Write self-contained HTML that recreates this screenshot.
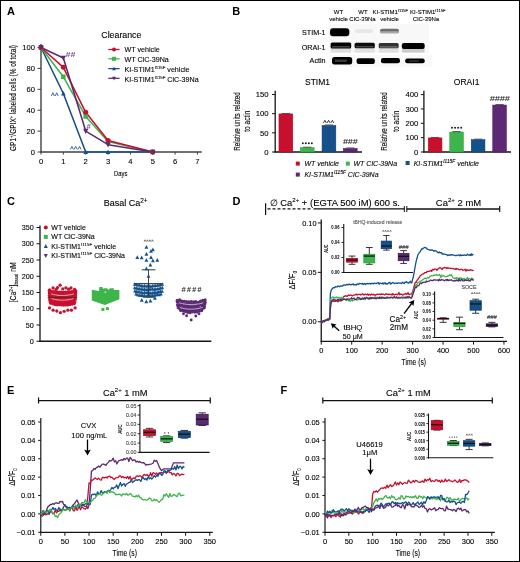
<!DOCTYPE html>
<html><head><meta charset="utf-8"><style>
html,body{margin:0;padding:0;background:#fff;}
svg{display:block;will-change:transform;}
text{font-family:"Liberation Sans", sans-serif;}
</style></head><body>
<svg width="520" height="562" viewBox="0 0 520 562">
<defs><filter id="bl" x="-20%" y="-50%" width="140%" height="200%"><feGaussianBlur stdDeviation="0.55"/></filter></defs>
<rect x="0" y="0" width="520" height="562" fill="#fff"/>
<text transform="translate(7,14.8)" font-size="11" text-anchor="start" font-weight="bold" font-style="normal" fill="#000" >A</text>
<line x1="41" y1="44" x2="41" y2="152.6" stroke="#404040" stroke-width="1.4" />
<line x1="40.3" y1="152" x2="201.7" y2="152" stroke="#404040" stroke-width="1.4" />
<line x1="37.5" y1="152" x2="41" y2="152" stroke="#404040" stroke-width="1" />
<text transform="translate(35,154.7)" font-size="7.6" text-anchor="end" font-weight="normal" font-style="normal" fill="#000"  stroke="#000" stroke-width="0.1">0</text>
<line x1="37.5" y1="131.1" x2="41" y2="131.1" stroke="#404040" stroke-width="1" />
<text transform="translate(35,133.8)" font-size="7.6" text-anchor="end" font-weight="normal" font-style="normal" fill="#000"  stroke="#000" stroke-width="0.1">20</text>
<line x1="37.5" y1="110.2" x2="41" y2="110.2" stroke="#404040" stroke-width="1" />
<text transform="translate(35,112.9)" font-size="7.6" text-anchor="end" font-weight="normal" font-style="normal" fill="#000"  stroke="#000" stroke-width="0.1">40</text>
<line x1="37.5" y1="89.3" x2="41" y2="89.3" stroke="#404040" stroke-width="1" />
<text transform="translate(35,92)" font-size="7.6" text-anchor="end" font-weight="normal" font-style="normal" fill="#000"  stroke="#000" stroke-width="0.1">60</text>
<line x1="37.5" y1="68.4" x2="41" y2="68.4" stroke="#404040" stroke-width="1" />
<text transform="translate(35,71.1)" font-size="7.6" text-anchor="end" font-weight="normal" font-style="normal" fill="#000"  stroke="#000" stroke-width="0.1">80</text>
<line x1="37.5" y1="47.5" x2="41" y2="47.5" stroke="#404040" stroke-width="1" />
<text transform="translate(35,50.2)" font-size="7.6" text-anchor="end" font-weight="normal" font-style="normal" fill="#000"  stroke="#000" stroke-width="0.1">100</text>
<line x1="41" y1="152" x2="41" y2="154.6" stroke="#404040" stroke-width="1" />
<text transform="translate(41,163.8)" font-size="7.6" text-anchor="middle" font-weight="normal" font-style="normal" fill="#000"  stroke="#000" stroke-width="0.1">0</text>
<line x1="63.35" y1="152" x2="63.35" y2="154.6" stroke="#404040" stroke-width="1" />
<text transform="translate(63.35,163.8)" font-size="7.6" text-anchor="middle" font-weight="normal" font-style="normal" fill="#000"  stroke="#000" stroke-width="0.1">1</text>
<line x1="85.7" y1="152" x2="85.7" y2="154.6" stroke="#404040" stroke-width="1" />
<text transform="translate(85.7,163.8)" font-size="7.6" text-anchor="middle" font-weight="normal" font-style="normal" fill="#000"  stroke="#000" stroke-width="0.1">2</text>
<line x1="108.05" y1="152" x2="108.05" y2="154.6" stroke="#404040" stroke-width="1" />
<text transform="translate(108.05,163.8)" font-size="7.6" text-anchor="middle" font-weight="normal" font-style="normal" fill="#000"  stroke="#000" stroke-width="0.1">3</text>
<line x1="130.4" y1="152" x2="130.4" y2="154.6" stroke="#404040" stroke-width="1" />
<text transform="translate(130.4,163.8)" font-size="7.6" text-anchor="middle" font-weight="normal" font-style="normal" fill="#000"  stroke="#000" stroke-width="0.1">4</text>
<line x1="152.75" y1="152" x2="152.75" y2="154.6" stroke="#404040" stroke-width="1" />
<text transform="translate(152.75,163.8)" font-size="7.6" text-anchor="middle" font-weight="normal" font-style="normal" fill="#000"  stroke="#000" stroke-width="0.1">5</text>
<line x1="175.1" y1="152" x2="175.1" y2="154.6" stroke="#404040" stroke-width="1" />
<text transform="translate(175.1,163.8)" font-size="7.6" text-anchor="middle" font-weight="normal" font-style="normal" fill="#000"  stroke="#000" stroke-width="0.1">6</text>
<line x1="197.45" y1="152" x2="197.45" y2="154.6" stroke="#404040" stroke-width="1" />
<text transform="translate(197.45,163.8)" font-size="7.6" text-anchor="middle" font-weight="normal" font-style="normal" fill="#000"  stroke="#000" stroke-width="0.1">7</text>
<text transform="translate(120.7,175.5) scale(0.78,1)" font-size="7.5" text-anchor="middle" font-weight="normal" font-style="normal" fill="#000"  stroke="#000" stroke-width="0.1">Days</text>
<text transform="translate(16.3,98) rotate(-90)" font-size="8.2" text-anchor="middle" font-weight="normal" font-style="normal" fill="#000"  textLength="106" lengthAdjust="spacingAndGlyphs" stroke="#000" stroke-width="0.1">GP1<tspan font-size="5" dy="-3">+</tspan><tspan dy="3">/GPIX<tspan font-size="5" dy="-3">+</tspan><tspan dy="3"> labeled cells (% of total)</tspan></tspan></text>
<polyline points="41,47.5 63.35,93.48 85.7,152 108.05,152 152.75,152" fill="none" stroke="#14508a" stroke-width="1.55" stroke-linejoin="round" />
<polyline points="41,47.5 63.35,76.76 85.7,116.47 108.05,141.55 152.75,152" fill="none" stroke="#3db54a" stroke-width="1.55" stroke-linejoin="round" />
<polyline points="41,47.5 63.35,67.36 85.7,112.29 108.05,140.5 152.75,152" fill="none" stroke="#c8102e" stroke-width="1.55" stroke-linejoin="round" />
<polyline points="41,47.5 63.35,57.95 85.7,131.1 108.05,144.69 152.75,152" fill="none" stroke="#5c2a72" stroke-width="1.55" stroke-linejoin="round" />
<polygon points="41,44.97 43.3,49.52 38.7,49.52" fill="#14508a"/>
<polygon points="63.35,90.95 65.65,95.5 61.05,95.5" fill="#14508a"/>
<polygon points="85.7,149.47 88,154.02 83.4,154.02" fill="#14508a"/>
<polygon points="108.05,149.47 110.35,154.02 105.75,154.02" fill="#14508a"/>
<polygon points="152.75,149.47 155.05,154.02 150.45,154.02" fill="#14508a"/>
<rect x="38.7" y="45.2" width="4.6" height="4.6" fill="#3db54a"/>
<rect x="61.05" y="74.46" width="4.6" height="4.6" fill="#3db54a"/>
<rect x="83.4" y="114.17" width="4.6" height="4.6" fill="#3db54a"/>
<rect x="105.75" y="139.25" width="4.6" height="4.6" fill="#3db54a"/>
<rect x="150.45" y="149.7" width="4.6" height="4.6" fill="#3db54a"/>
<circle cx="41" cy="47.5" r="2.5" fill="#c8102e"/>
<circle cx="63.35" cy="67.36" r="2.5" fill="#c8102e"/>
<circle cx="85.7" cy="112.29" r="2.5" fill="#c8102e"/>
<circle cx="108.05" cy="140.5" r="2.5" fill="#c8102e"/>
<circle cx="152.75" cy="152" r="2.5" fill="#c8102e"/>
<polygon points="41,50.36 43.6,45.21 38.4,45.21" fill="#5c2a72"/>
<polygon points="63.35,60.81 65.95,55.66 60.75,55.66" fill="#5c2a72"/>
<polygon points="85.7,133.96 88.3,128.81 83.1,128.81" fill="#5c2a72"/>
<polygon points="108.05,147.55 110.65,142.4 105.45,142.4" fill="#5c2a72"/>
<polygon points="152.75,154.86 155.35,149.71 150.15,149.71" fill="#5c2a72"/>
<text transform="translate(65.6,57.2)" font-size="7.4" text-anchor="start" font-weight="bold" font-style="italic" fill="#7e4f9c"  textLength="9.6" lengthAdjust="spacingAndGlyphs">##</text>
<polyline points="51.4,96 52.9,92.8 54.4,96" fill="none" stroke="#2f64a4" stroke-width="0.95" stroke-linejoin="miter"/>
<polyline points="55.2,96 56.7,92.8 58.2,96" fill="none" stroke="#2f64a4" stroke-width="0.95" stroke-linejoin="miter"/>
<text transform="translate(86.5,128.8)" font-size="7.4" text-anchor="start" font-weight="bold" font-style="italic" fill="#7e4f9c" >#</text>
<polyline points="70.4,149.4 71.9,146.4 73.4,149.4" fill="none" stroke="#2f64a4" stroke-width="0.95" stroke-linejoin="miter"/>
<polyline points="74.2,149.4 75.7,146.4 77.2,149.4" fill="none" stroke="#2f64a4" stroke-width="0.95" stroke-linejoin="miter"/>
<polyline points="78,149.4 79.5,146.4 81,149.4" fill="none" stroke="#2f64a4" stroke-width="0.95" stroke-linejoin="miter"/>
<text transform="translate(101.3,37.6)" font-size="8.8" text-anchor="start" font-weight="normal" font-style="normal" fill="#000"  stroke="#000" stroke-width="0.1">Clearance</text>
<line x1="108.3" y1="49.5" x2="119.6" y2="49.5" stroke="#c8102e" stroke-width="1.25" />
<circle cx="114" cy="49.5" r="2.0" fill="#c8102e"/>
<text transform="translate(124.5,52)" font-size="7.15" text-anchor="start" font-weight="normal" font-style="normal" fill="#000"  stroke="#000" stroke-width="0.1">WT vehicle</text>
<line x1="108.3" y1="58.8" x2="119.6" y2="58.8" stroke="#3db54a" stroke-width="1.25" />
<rect x="112" y="56.8" width="4" height="4" fill="#3db54a"/>
<text transform="translate(124.5,61.6)" font-size="7.15" text-anchor="start" font-weight="normal" font-style="normal" fill="#000"  stroke="#000" stroke-width="0.1">WT ClC-39Na</text>
<line x1="108.3" y1="68.6" x2="119.6" y2="68.6" stroke="#14508a" stroke-width="1.25" />
<polygon points="114,66.51 115.9,70.27 112.1,70.27" fill="#14508a"/>
<text transform="translate(124.5,71.7)" font-size="7.15" text-anchor="start" font-weight="normal" font-style="normal" fill="#000"  stroke="#000" stroke-width="0.1">KI-STIM1<tspan font-size="4.3" dy="-3.1">I115F</tspan><tspan dy="3.1"> vehicle</tspan></text>
<line x1="108.3" y1="78.3" x2="119.6" y2="78.3" stroke="#5c2a72" stroke-width="1.25" />
<polygon points="114,80.39 115.9,76.63 112.1,76.63" fill="#5c2a72"/>
<text transform="translate(124.5,81.7)" font-size="7.15" text-anchor="start" font-weight="normal" font-style="normal" fill="#000"  stroke="#000" stroke-width="0.1">KI-STIM1<tspan font-size="4.3" dy="-3.1">I115F</tspan><tspan dy="3.1"> ClC-39Na</tspan></text>
<text transform="translate(232.3,14.9)" font-size="11" text-anchor="start" font-weight="bold" font-style="normal" fill="#000" >B</text>
<text transform="translate(338.5,14.2)" font-size="6.0" text-anchor="middle" font-weight="normal" font-style="normal" fill="#000"  stroke="#000" stroke-width="0.1">WT</text>
<text transform="translate(338.5,21.2)" font-size="6.0" text-anchor="middle" font-weight="normal" font-style="normal" fill="#000"  stroke="#000" stroke-width="0.1">vehicle</text>
<text transform="translate(363,14.2)" font-size="6.0" text-anchor="middle" font-weight="normal" font-style="normal" fill="#000"  stroke="#000" stroke-width="0.1">WT</text>
<text transform="translate(362.5,21.2)" font-size="6.0" text-anchor="middle" font-weight="normal" font-style="normal" fill="#000"  stroke="#000" stroke-width="0.1">ClC-39Na</text>
<text transform="translate(372.5,14.2)" font-size="6.0" text-anchor="start" font-weight="normal" font-style="normal" fill="#000"  stroke="#000" stroke-width="0.1">KI-STIM1<tspan font-size="4.1" dy="-2.6">I115F</tspan><tspan dy="2.6"></tspan></text>
<text transform="translate(389.5,21.2)" font-size="6.0" text-anchor="middle" font-weight="normal" font-style="normal" fill="#000"  stroke="#000" stroke-width="0.1">vehicle</text>
<text transform="translate(410,14.2)" font-size="6.0" text-anchor="start" font-weight="normal" font-style="normal" fill="#000"  stroke="#000" stroke-width="0.1">KI-STIM1<tspan font-size="4.1" dy="-2.6">I115F</tspan><tspan dy="2.6"></tspan></text>
<text transform="translate(426,21.2)" font-size="6.0" text-anchor="middle" font-weight="normal" font-style="normal" fill="#000"  stroke="#000" stroke-width="0.1">ClC-39Na</text>
<text transform="translate(325.6,35.2)" font-size="7.2" text-anchor="end" font-weight="normal" font-style="normal" fill="#000" stroke="#000" stroke-width="0.12">STIM-1</text>
<text transform="translate(325.6,50.2)" font-size="7.2" text-anchor="end" font-weight="normal" font-style="normal" fill="#000" stroke="#000" stroke-width="0.12">ORAI-1</text>
<text transform="translate(325.6,63.2)" font-size="7.2" text-anchor="end" font-weight="normal" font-style="normal" fill="#000" stroke="#000" stroke-width="0.12">Actin</text>
<rect x="328.4" y="24" width="100.6" height="28.8" fill="#f8f8f8" />
<rect x="328.4" y="54.8" width="104" height="12.2" fill="#f9f9f9" />
<g filter="url(#bl)">
<rect x="330" y="28.3" width="19.3" height="8" rx="3" fill="#000" fill-opacity="1"/>
<rect x="354.8" y="29.3" width="18.2" height="3.8" rx="2.0" fill="#e8e8e8" fill-opacity="1"/>
<rect x="380" y="28.7" width="19" height="3.8" rx="2.0" fill="#6e6e6e" fill-opacity="1"/>
<rect x="380" y="31.3" width="19" height="2.3" rx="2.0" fill="#a8a8a8" fill-opacity="1"/>
<rect x="330.8" y="48" width="20.2" height="4.6" rx="0" fill="#dedede" fill-opacity="1"/>
<rect x="354.8" y="47.8" width="19.8" height="4.8" rx="0" fill="#e2e2e2" fill-opacity="1"/>
<rect x="378.9" y="48" width="19.6" height="4.6" rx="0" fill="#e0e0e0" fill-opacity="1"/>
<rect x="402" y="48.3" width="22.5" height="4.3" rx="0" fill="#cccccc" fill-opacity="1"/>
<rect x="330.6" y="42.4" width="20.6" height="6" rx="1.5" fill="#030303" fill-opacity="1"/>
<rect x="332" y="46" width="18" height="1.6" rx="0" fill="#404040" fill-opacity="1"/>
<rect x="354.6" y="42.8" width="20.2" height="5.5" rx="1.5" fill="#080808" fill-opacity="1"/>
<rect x="356" y="46" width="17.5" height="1.5" rx="0" fill="#454545" fill-opacity="1"/>
<rect x="378.7" y="43" width="20" height="5.3" rx="1.5" fill="#333" fill-opacity="1"/>
<rect x="380" y="46.1" width="17.5" height="1.6" rx="0" fill="#666" fill-opacity="1"/>
<rect x="401.8" y="42.9" width="22.9" height="6" rx="2" fill="#000" fill-opacity="1"/>
<rect x="332" y="57" width="20.2" height="7.5" rx="2.5" fill="#060606" fill-opacity="1"/>
<rect x="335" y="59.6" width="12" height="2.4" rx="1" fill="#383838" fill-opacity="1"/>
<rect x="356.6" y="58.2" width="18.2" height="5.9" rx="2" fill="#060606" fill-opacity="1"/>
<rect x="381" y="58" width="18.9" height="5.3" rx="2" fill="#060606" fill-opacity="1"/>
<rect x="405.2" y="58.6" width="19.5" height="4.7" rx="2" fill="#060606" fill-opacity="1"/>
<rect x="409" y="60.4" width="10" height="1.3" rx="0.5" fill="#3a3a3a" fill-opacity="1"/>
</g>
<text transform="translate(317.5,85.2)" font-size="8.5" text-anchor="middle" font-weight="normal" font-style="normal" fill="#000"  stroke="#000" stroke-width="0.1">STIM1</text>
<line x1="275.2" y1="90.7" x2="275.2" y2="152.6" stroke="#151515" stroke-width="1.3" />
<line x1="274.5" y1="152" x2="362" y2="152" stroke="#151515" stroke-width="1.3" />
<line x1="272" y1="152" x2="275.2" y2="152" stroke="#151515" stroke-width="1" />
<text transform="translate(268.6,154.7)" font-size="7.7" text-anchor="end" font-weight="normal" font-style="normal" fill="#000"  stroke="#000" stroke-width="0.1">0</text>
<line x1="272" y1="132.84" x2="275.2" y2="132.84" stroke="#151515" stroke-width="1" />
<text transform="translate(268.6,135.53)" font-size="7.7" text-anchor="end" font-weight="normal" font-style="normal" fill="#000"  stroke="#000" stroke-width="0.1">50</text>
<line x1="272" y1="113.67" x2="275.2" y2="113.67" stroke="#151515" stroke-width="1" />
<text transform="translate(268.6,116.37)" font-size="7.7" text-anchor="end" font-weight="normal" font-style="normal" fill="#000"  stroke="#000" stroke-width="0.1">100</text>
<line x1="272" y1="94.5" x2="275.2" y2="94.5" stroke="#151515" stroke-width="1" />
<text transform="translate(268.6,97.2)" font-size="7.7" text-anchor="end" font-weight="normal" font-style="normal" fill="#000"  stroke="#000" stroke-width="0.1">150</text>
<text transform="translate(240,121.6) rotate(-90)" font-size="8.5" text-anchor="middle" font-weight="normal" font-style="normal" fill="#000"  textLength="58.5" lengthAdjust="spacingAndGlyphs" stroke="#000" stroke-width="0.1">Relative units related</text>
<text transform="translate(250.2,121.2) rotate(-90)" font-size="8.5" text-anchor="middle" font-weight="normal" font-style="normal" fill="#000"  textLength="21" lengthAdjust="spacingAndGlyphs" stroke="#000" stroke-width="0.1">to actin</text>
<rect x="278.95" y="113.92" width="13.8" height="38.08" fill="#c8102e" stroke="#b00020" stroke-width="0.5"/>
<line x1="281.7" y1="113.47" x2="290" y2="113.47" stroke="#444" stroke-width="0.9" />
<rect x="300.35" y="147.65" width="13.8" height="4.35" fill="#3db54a" stroke="#24a236" stroke-width="0.5"/>
<line x1="303.1" y1="147.2" x2="311.4" y2="147.2" stroke="#444" stroke-width="0.9" />
<rect x="322.05" y="125.42" width="13.8" height="26.58" fill="#14508a" stroke="#0c3d70" stroke-width="0.5"/>
<line x1="324.8" y1="124.97" x2="333.1" y2="124.97" stroke="#444" stroke-width="0.9" />
<rect x="343.35" y="148.42" width="13.8" height="3.58" fill="#5c2a72" stroke="#4a1760" stroke-width="0.5"/>
<line x1="346.1" y1="147.97" x2="354.4" y2="147.97" stroke="#444" stroke-width="0.9" />
<circle cx="302.8" cy="143.2" r="1.0" fill="#222"/>
<circle cx="305.8" cy="143.2" r="1.0" fill="#222"/>
<circle cx="308.8" cy="143.2" r="1.0" fill="#222"/>
<circle cx="311.8" cy="143.2" r="1.0" fill="#222"/>
<polyline points="323.4,122.9 324.85,120.3 326.3,122.9" fill="none" stroke="#222" stroke-width="0.9" stroke-linejoin="miter"/>
<polyline points="327.15,122.9 328.6,120.3 330.05,122.9" fill="none" stroke="#222" stroke-width="0.9" stroke-linejoin="miter"/>
<polyline points="330.9,122.9 332.35,120.3 333.8,122.9" fill="none" stroke="#222" stroke-width="0.9" stroke-linejoin="miter"/>
<text transform="translate(343,144.2)" font-size="7.2" text-anchor="start" font-weight="normal" font-style="italic" fill="#222"  textLength="14.5" lengthAdjust="spacingAndGlyphs" stroke="#222" stroke-width="0.1">###</text>
<text transform="translate(466.6,85.2)" font-size="8.5" text-anchor="middle" font-weight="normal" font-style="normal" fill="#000"  stroke="#000" stroke-width="0.1">ORAI1</text>
<line x1="423.9" y1="90.7" x2="423.9" y2="152.6" stroke="#151515" stroke-width="1.3" />
<line x1="423.2" y1="152" x2="511" y2="152" stroke="#151515" stroke-width="1.3" />
<line x1="420.8" y1="152" x2="423.9" y2="152" stroke="#151515" stroke-width="1" />
<text transform="translate(418.3,154.7)" font-size="7.7" text-anchor="end" font-weight="normal" font-style="normal" fill="#000"  stroke="#000" stroke-width="0.1">0</text>
<line x1="420.8" y1="137.65" x2="423.9" y2="137.65" stroke="#151515" stroke-width="1" />
<text transform="translate(418.3,140.35)" font-size="7.7" text-anchor="end" font-weight="normal" font-style="normal" fill="#000"  stroke="#000" stroke-width="0.1">100</text>
<line x1="420.8" y1="123.3" x2="423.9" y2="123.3" stroke="#151515" stroke-width="1" />
<text transform="translate(418.3,126)" font-size="7.7" text-anchor="end" font-weight="normal" font-style="normal" fill="#000"  stroke="#000" stroke-width="0.1">200</text>
<line x1="420.8" y1="108.95" x2="423.9" y2="108.95" stroke="#151515" stroke-width="1" />
<text transform="translate(418.3,111.65)" font-size="7.7" text-anchor="end" font-weight="normal" font-style="normal" fill="#000"  stroke="#000" stroke-width="0.1">300</text>
<line x1="420.8" y1="94.6" x2="423.9" y2="94.6" stroke="#151515" stroke-width="1" />
<text transform="translate(418.3,97.3)" font-size="7.7" text-anchor="end" font-weight="normal" font-style="normal" fill="#000"  stroke="#000" stroke-width="0.1">400</text>
<text transform="translate(387.3,121.6) rotate(-90)" font-size="8.5" text-anchor="middle" font-weight="normal" font-style="normal" fill="#000"  textLength="58.5" lengthAdjust="spacingAndGlyphs" stroke="#000" stroke-width="0.1">Relative units related</text>
<text transform="translate(398.6,121.2) rotate(-90)" font-size="8.5" text-anchor="middle" font-weight="normal" font-style="normal" fill="#000"  textLength="21" lengthAdjust="spacingAndGlyphs" stroke="#000" stroke-width="0.1">to actin</text>
<rect x="428.25" y="137.9" width="13.7" height="14.1" fill="#c8102e" stroke="#b00020" stroke-width="0.5"/>
<line x1="431" y1="137.45" x2="439.2" y2="137.45" stroke="#444" stroke-width="0.9" />
<rect x="449.75" y="132.02" width="13.7" height="19.98" fill="#3db54a" stroke="#24a236" stroke-width="0.5"/>
<line x1="452.5" y1="131.57" x2="460.7" y2="131.57" stroke="#444" stroke-width="0.9" />
<rect x="471.25" y="139.62" width="13.7" height="12.38" fill="#14508a" stroke="#0c3d70" stroke-width="0.5"/>
<line x1="474" y1="139.17" x2="482.2" y2="139.17" stroke="#444" stroke-width="0.9" />
<rect x="492.75" y="105.04" width="13.7" height="46.96" fill="#5c2a72" stroke="#4a1760" stroke-width="0.5"/>
<line x1="495.5" y1="104.59" x2="503.7" y2="104.59" stroke="#444" stroke-width="0.9" />
<circle cx="452" cy="127.8" r="1.0" fill="#222"/>
<circle cx="455.07" cy="127.8" r="1.0" fill="#222"/>
<circle cx="458.13" cy="127.8" r="1.0" fill="#222"/>
<circle cx="461.2" cy="127.8" r="1.0" fill="#222"/>
<text transform="translate(489.8,101.1)" font-size="8.0" text-anchor="start" font-weight="normal" font-style="italic" fill="#222"  textLength="20" lengthAdjust="spacingAndGlyphs" stroke="#222" stroke-width="0.1">####</text>
<rect x="295.8" y="161.6" width="4" height="4" fill="#c8102e" />
<text transform="translate(304.4,165.6)" font-size="7.0" text-anchor="start" font-weight="normal" font-style="italic" fill="#000"  stroke="#000" stroke-width="0.1">WT vehicle</text>
<rect x="345.8" y="161.6" width="4" height="4" fill="#3db54a" />
<text transform="translate(353.5,165.6)" font-size="7.0" text-anchor="start" font-weight="normal" font-style="italic" fill="#000"  stroke="#000" stroke-width="0.1">WT ClC-39Na</text>
<rect x="405.6" y="161" width="4" height="4" fill="#14508a" />
<text transform="translate(413.7,165.6)" font-size="7.0" text-anchor="start" font-weight="normal" font-style="italic" fill="#000"  stroke="#000" stroke-width="0.1">KI-STIM1<tspan font-size="4.8" dy="-2.7">I115F</tspan><tspan dy="2.7"> vehicle</tspan></text>
<rect x="295.8" y="172.6" width="4" height="4" fill="#5c2a72" />
<text transform="translate(304.4,176.6)" font-size="7.0" text-anchor="start" font-weight="normal" font-style="italic" fill="#000"  stroke="#000" stroke-width="0.1">KI-STIM1<tspan font-size="4.8" dy="-2.7">I115F</tspan><tspan dy="2.7"> ClC-39Na</tspan></text>
<text transform="translate(7,204.6)" font-size="11" text-anchor="start" font-weight="bold" font-style="normal" fill="#000" >C</text>
<line x1="40" y1="225.5" x2="40" y2="341.9" stroke="#151515" stroke-width="1.3" />
<line x1="39.4" y1="341.25" x2="211.3" y2="341.25" stroke="#151515" stroke-width="1.3" />
<line x1="36.5" y1="341.25" x2="40" y2="341.25" stroke="#151515" stroke-width="1" />
<text transform="translate(33.8,343.85)" font-size="7.2" text-anchor="end" font-weight="normal" font-style="normal" fill="#000"  stroke="#000" stroke-width="0.1">0</text>
<line x1="36.5" y1="325" x2="40" y2="325" stroke="#151515" stroke-width="1" />
<text transform="translate(33.8,327.6)" font-size="7.2" text-anchor="end" font-weight="normal" font-style="normal" fill="#000"  stroke="#000" stroke-width="0.1">50</text>
<line x1="36.5" y1="308.75" x2="40" y2="308.75" stroke="#151515" stroke-width="1" />
<text transform="translate(33.8,311.35)" font-size="7.2" text-anchor="end" font-weight="normal" font-style="normal" fill="#000"  stroke="#000" stroke-width="0.1">100</text>
<line x1="36.5" y1="292.5" x2="40" y2="292.5" stroke="#151515" stroke-width="1" />
<text transform="translate(33.8,295.1)" font-size="7.2" text-anchor="end" font-weight="normal" font-style="normal" fill="#000"  stroke="#000" stroke-width="0.1">150</text>
<line x1="36.5" y1="276.25" x2="40" y2="276.25" stroke="#151515" stroke-width="1" />
<text transform="translate(33.8,278.85)" font-size="7.2" text-anchor="end" font-weight="normal" font-style="normal" fill="#000"  stroke="#000" stroke-width="0.1">200</text>
<line x1="36.5" y1="260" x2="40" y2="260" stroke="#151515" stroke-width="1" />
<text transform="translate(33.8,262.6)" font-size="7.2" text-anchor="end" font-weight="normal" font-style="normal" fill="#000"  stroke="#000" stroke-width="0.1">250</text>
<line x1="36.5" y1="243.75" x2="40" y2="243.75" stroke="#151515" stroke-width="1" />
<text transform="translate(33.8,246.35)" font-size="7.2" text-anchor="end" font-weight="normal" font-style="normal" fill="#000"  stroke="#000" stroke-width="0.1">300</text>
<line x1="36.5" y1="227.5" x2="40" y2="227.5" stroke="#151515" stroke-width="1" />
<text transform="translate(33.8,230.1)" font-size="7.2" text-anchor="end" font-weight="normal" font-style="normal" fill="#000"  stroke="#000" stroke-width="0.1">350</text>
<text transform="translate(103.7,206.2)" font-size="9.0" text-anchor="start" font-weight="normal" font-style="normal" fill="#000"  stroke="#000" stroke-width="0.1">Basal Ca<tspan font-size="6.4" dy="-3.4">2+</tspan><tspan dy="3.4"></tspan></text>
<text transform="translate(16.2,282.3) rotate(-90)" font-size="8.2" text-anchor="middle" font-weight="normal" font-style="normal" fill="#000"  textLength="40" lengthAdjust="spacingAndGlyphs" stroke="#000" stroke-width="0.1">[Ca<tspan font-size="5.5" dy="-3">2+</tspan><tspan dy="3">]<tspan font-size="5.5" dy="1.8">basal</tspan><tspan dy="-1.8"> nM</tspan></tspan></text>
<circle cx="45.8" cy="227.6" r="2.0" fill="#c8102e"/>
<text transform="translate(51.3,230.1)" font-size="7.0" text-anchor="start" font-weight="normal" font-style="normal" fill="#000"  stroke="#000" stroke-width="0.1">WT vehicle</text>
<rect x="43.8" y="234.9" width="4" height="4" fill="#3db54a"/>
<text transform="translate(51.3,239.4)" font-size="7.0" text-anchor="start" font-weight="normal" font-style="normal" fill="#000"  stroke="#000" stroke-width="0.1">WT ClC-39Na</text>
<polygon points="45.8,244.1 47.8,248.06 43.8,248.06" fill="#14508a"/>
<text transform="translate(51.3,248.8)" font-size="7.0" text-anchor="start" font-weight="normal" font-style="normal" fill="#000"  stroke="#000" stroke-width="0.1">KI-STIM1<tspan font-size="4.3" dy="-3.0" letter-spacing="0.15">I115F</tspan><tspan dy="3.0"> vehicle</tspan></text>
<polygon points="45.8,257.9 47.8,253.94 43.8,253.94" fill="#5c2a72"/>
<text transform="translate(51.3,258.2)" font-size="7.0" text-anchor="start" font-weight="normal" font-style="normal" fill="#000"  stroke="#000" stroke-width="0.1">KI-STIM1<tspan font-size="4.3" dy="-3.0" letter-spacing="0.15">I115F</tspan><tspan dy="3.0"> ClC-39Na</tspan></text>
<line x1="62.3" y1="295.9" x2="62.3" y2="300.7" stroke="#333" stroke-width="0.8" />
<circle cx="60.1" cy="285.2" r="1.65" fill="#c8102e"/>
<circle cx="49.6" cy="289.8" r="1.65" fill="#c8102e"/>
<circle cx="53.1" cy="288" r="1.65" fill="#c8102e"/>
<circle cx="56.2" cy="289.3" r="1.65" fill="#c8102e"/>
<circle cx="57.5" cy="287.6" r="1.65" fill="#c8102e"/>
<circle cx="62.8" cy="288.9" r="1.65" fill="#c8102e"/>
<circle cx="65.9" cy="287.8" r="1.65" fill="#c8102e"/>
<circle cx="68.6" cy="289.2" r="1.65" fill="#c8102e"/>
<circle cx="71" cy="287.9" r="1.65" fill="#c8102e"/>
<circle cx="74.6" cy="289.4" r="1.65" fill="#c8102e"/>
<circle cx="49.2" cy="290.87" r="1.6" fill="#c8102e"/>
<circle cx="51.25" cy="291.36" r="1.6" fill="#c8102e"/>
<circle cx="53.29" cy="291.6" r="1.6" fill="#c8102e"/>
<circle cx="55.34" cy="291.53" r="1.6" fill="#c8102e"/>
<circle cx="57.38" cy="292.17" r="1.6" fill="#c8102e"/>
<circle cx="59.43" cy="292.21" r="1.6" fill="#c8102e"/>
<circle cx="61.48" cy="292.08" r="1.6" fill="#c8102e"/>
<circle cx="63.52" cy="292.31" r="1.6" fill="#c8102e"/>
<circle cx="65.57" cy="292.2" r="1.6" fill="#c8102e"/>
<circle cx="67.62" cy="292.05" r="1.6" fill="#c8102e"/>
<circle cx="69.66" cy="291.8" r="1.6" fill="#c8102e"/>
<circle cx="71.71" cy="291.64" r="1.6" fill="#c8102e"/>
<circle cx="73.75" cy="291.05" r="1.6" fill="#c8102e"/>
<circle cx="75.8" cy="290.77" r="1.6" fill="#c8102e"/>
<circle cx="49.3" cy="292.9" r="1.6" fill="#c8102e"/>
<circle cx="51.33" cy="293.52" r="1.6" fill="#c8102e"/>
<circle cx="53.36" cy="293.74" r="1.6" fill="#c8102e"/>
<circle cx="55.39" cy="293.94" r="1.6" fill="#c8102e"/>
<circle cx="57.42" cy="294.04" r="1.6" fill="#c8102e"/>
<circle cx="59.45" cy="294.27" r="1.6" fill="#c8102e"/>
<circle cx="61.48" cy="294.39" r="1.6" fill="#c8102e"/>
<circle cx="63.52" cy="294.34" r="1.6" fill="#c8102e"/>
<circle cx="65.55" cy="294.58" r="1.6" fill="#c8102e"/>
<circle cx="67.58" cy="294.39" r="1.6" fill="#c8102e"/>
<circle cx="69.61" cy="293.45" r="1.6" fill="#c8102e"/>
<circle cx="71.64" cy="293.35" r="1.6" fill="#c8102e"/>
<circle cx="73.67" cy="293.36" r="1.6" fill="#c8102e"/>
<circle cx="75.7" cy="292.92" r="1.6" fill="#c8102e"/>
<circle cx="49.4" cy="295.24" r="1.6" fill="#c8102e"/>
<circle cx="51.42" cy="295.64" r="1.6" fill="#c8102e"/>
<circle cx="53.43" cy="296.35" r="1.6" fill="#c8102e"/>
<circle cx="55.45" cy="295.97" r="1.6" fill="#c8102e"/>
<circle cx="57.46" cy="296.32" r="1.6" fill="#c8102e"/>
<circle cx="59.48" cy="296.93" r="1.6" fill="#c8102e"/>
<circle cx="61.49" cy="296.72" r="1.6" fill="#c8102e"/>
<circle cx="63.51" cy="296.72" r="1.6" fill="#c8102e"/>
<circle cx="65.52" cy="296.42" r="1.6" fill="#c8102e"/>
<circle cx="67.54" cy="296.06" r="1.6" fill="#c8102e"/>
<circle cx="69.55" cy="296.23" r="1.6" fill="#c8102e"/>
<circle cx="71.57" cy="295.95" r="1.6" fill="#c8102e"/>
<circle cx="73.58" cy="295.35" r="1.6" fill="#c8102e"/>
<circle cx="75.6" cy="295.06" r="1.6" fill="#c8102e"/>
<circle cx="49.5" cy="297.39" r="1.6" fill="#c8102e"/>
<circle cx="51.5" cy="297.61" r="1.6" fill="#c8102e"/>
<circle cx="53.5" cy="298.11" r="1.6" fill="#c8102e"/>
<circle cx="55.5" cy="298.41" r="1.6" fill="#c8102e"/>
<circle cx="57.5" cy="298.6" r="1.6" fill="#c8102e"/>
<circle cx="59.5" cy="298.62" r="1.6" fill="#c8102e"/>
<circle cx="61.5" cy="298.91" r="1.6" fill="#c8102e"/>
<circle cx="63.5" cy="298.97" r="1.6" fill="#c8102e"/>
<circle cx="65.5" cy="298.79" r="1.6" fill="#c8102e"/>
<circle cx="67.5" cy="298.43" r="1.6" fill="#c8102e"/>
<circle cx="69.5" cy="298.54" r="1.6" fill="#c8102e"/>
<circle cx="71.5" cy="298.03" r="1.6" fill="#c8102e"/>
<circle cx="73.5" cy="297.97" r="1.6" fill="#c8102e"/>
<circle cx="75.5" cy="297.19" r="1.6" fill="#c8102e"/>
<circle cx="49.7" cy="299.78" r="1.6" fill="#c8102e"/>
<circle cx="51.83" cy="300.02" r="1.6" fill="#c8102e"/>
<circle cx="53.97" cy="300.13" r="1.6" fill="#c8102e"/>
<circle cx="56.1" cy="300.59" r="1.6" fill="#c8102e"/>
<circle cx="58.23" cy="300.86" r="1.6" fill="#c8102e"/>
<circle cx="60.37" cy="301.02" r="1.6" fill="#c8102e"/>
<circle cx="62.5" cy="300.8" r="1.6" fill="#c8102e"/>
<circle cx="64.63" cy="300.74" r="1.6" fill="#c8102e"/>
<circle cx="66.77" cy="300.88" r="1.6" fill="#c8102e"/>
<circle cx="68.9" cy="300.56" r="1.6" fill="#c8102e"/>
<circle cx="71.03" cy="300.42" r="1.6" fill="#c8102e"/>
<circle cx="73.17" cy="300.18" r="1.6" fill="#c8102e"/>
<circle cx="75.3" cy="299.27" r="1.6" fill="#c8102e"/>
<circle cx="50.1" cy="301.85" r="1.6" fill="#c8102e"/>
<circle cx="52.17" cy="302.47" r="1.6" fill="#c8102e"/>
<circle cx="54.23" cy="302.52" r="1.6" fill="#c8102e"/>
<circle cx="56.3" cy="302.69" r="1.6" fill="#c8102e"/>
<circle cx="58.37" cy="303.19" r="1.6" fill="#c8102e"/>
<circle cx="60.43" cy="303.21" r="1.6" fill="#c8102e"/>
<circle cx="62.5" cy="303.38" r="1.6" fill="#c8102e"/>
<circle cx="64.57" cy="303.09" r="1.6" fill="#c8102e"/>
<circle cx="66.63" cy="302.75" r="1.6" fill="#c8102e"/>
<circle cx="68.7" cy="302.83" r="1.6" fill="#c8102e"/>
<circle cx="70.77" cy="302.49" r="1.6" fill="#c8102e"/>
<circle cx="72.83" cy="302.38" r="1.6" fill="#c8102e"/>
<circle cx="74.9" cy="301.84" r="1.6" fill="#c8102e"/>
<circle cx="50.7" cy="303.27" r="1.6" fill="#c8102e"/>
<circle cx="52.85" cy="303.82" r="1.6" fill="#c8102e"/>
<circle cx="54.99" cy="304.61" r="1.6" fill="#c8102e"/>
<circle cx="57.14" cy="304.85" r="1.6" fill="#c8102e"/>
<circle cx="59.28" cy="304.77" r="1.6" fill="#c8102e"/>
<circle cx="61.43" cy="304.99" r="1.6" fill="#c8102e"/>
<circle cx="63.57" cy="305.08" r="1.6" fill="#c8102e"/>
<circle cx="65.72" cy="304.99" r="1.6" fill="#c8102e"/>
<circle cx="67.86" cy="304.89" r="1.6" fill="#c8102e"/>
<circle cx="70.01" cy="304.48" r="1.6" fill="#c8102e"/>
<circle cx="72.15" cy="304.04" r="1.6" fill="#c8102e"/>
<circle cx="74.3" cy="303.55" r="1.6" fill="#c8102e"/>
<polyline points="51.2,293.9 52.33,294.2 53.46,294.48 54.59,294.72 55.72,294.92 56.85,295.1 57.98,295.24 59.11,295.36 60.24,295.44 61.37,295.48 62.5,295.5 63.63,295.48 64.76,295.44 65.89,295.36 67.02,295.24 68.15,295.1 69.28,294.92 70.41,294.72 71.54,294.48 72.67,294.2 73.8,293.9" fill="none" stroke="#fff" stroke-width="0.7" stroke-linejoin="round" stroke-opacity="0.9"/>
<polyline points="51.5,298.6 52.6,298.9 53.7,299.18 54.8,299.42 55.9,299.62 57,299.8 58.1,299.94 59.2,300.06 60.3,300.14 61.4,300.18 62.5,300.2 63.6,300.18 64.7,300.14 65.8,300.06 66.9,299.94 68,299.8 69.1,299.62 70.2,299.42 71.3,299.18 72.4,298.9 73.5,298.6" fill="none" stroke="#fff" stroke-width="0.7" stroke-linejoin="round" stroke-opacity="0.9"/>
<circle cx="49.5" cy="307.9" r="1.65" fill="#c8102e"/>
<circle cx="53.1" cy="310.2" r="1.65" fill="#c8102e"/>
<circle cx="56.8" cy="311" r="1.65" fill="#c8102e"/>
<circle cx="60.4" cy="312.7" r="1.65" fill="#c8102e"/>
<circle cx="64.1" cy="311.3" r="1.65" fill="#c8102e"/>
<circle cx="67.8" cy="310.2" r="1.65" fill="#c8102e"/>
<circle cx="71.4" cy="310.2" r="1.65" fill="#c8102e"/>
<circle cx="75.1" cy="307.9" r="1.65" fill="#c8102e"/>
<line x1="47.7" y1="297.4" x2="76.9" y2="297.4" stroke="#333" stroke-width="0.8" />
<polygon points="91.8,289.7 99,291 99.4,286.9 102.5,286.9 103,289 104,288.3 107.4,288.3 108,290 110.2,288.3 113.6,288.3 114,290 119.4,290 119.4,299.3 104.8,305 91.8,300.6" fill="#3db54a"/>
<rect x="101.4" y="307.9" width="3" height="3" fill="#3db54a"/>
<rect x="105.9" y="307.2" width="3" height="3" fill="#3db54a"/>
<ellipse cx="105.3" cy="292.1" rx="1.2" ry="0.7" fill="#fff" fill-opacity="0.8"/>
<line x1="148.5" y1="269.8" x2="148.5" y2="297.2" stroke="#333" stroke-width="0.9" />
<line x1="141.7" y1="269.8" x2="155.4" y2="269.8" stroke="#333" stroke-width="1.0" />
<line x1="142.5" y1="297.2" x2="154.5" y2="297.2" stroke="#333" stroke-width="0.9" />
<line x1="133.8" y1="283.6" x2="163.2" y2="283.6" stroke="#333" stroke-width="1.0" />
<polygon points="146.4,244.91 148.3,248.67 144.5,248.67" fill="#14508a"/>
<polygon points="152.9,247.41 154.8,251.17 151,251.17" fill="#14508a"/>
<polygon points="151,249.01 152.9,252.77 149.1,252.77" fill="#14508a"/>
<polygon points="146.4,252.11 148.3,255.87 144.5,255.87" fill="#14508a"/>
<polygon points="137.3,255.21 139.2,258.97 135.4,258.97" fill="#14508a"/>
<polygon points="141.7,255.61 143.6,259.37 139.8,259.37" fill="#14508a"/>
<polygon points="151,255.21 152.9,258.97 149.1,258.97" fill="#14508a"/>
<polygon points="146.4,258.11 148.3,261.87 144.5,261.87" fill="#14508a"/>
<polygon points="152.9,258.61 154.8,262.37 151,262.37" fill="#14508a"/>
<polygon points="157.3,258.11 159.2,261.87 155.4,261.87" fill="#14508a"/>
<polygon points="150.4,262.71 152.3,266.47 148.5,266.47" fill="#14508a"/>
<polygon points="146.4,266.41 148.3,270.17 144.5,270.17" fill="#14508a"/>
<polygon points="148.5,273.91 150.4,277.67 146.6,277.67" fill="#14508a"/>
<polygon points="134.7,282.3 136.45,285.77 132.95,285.77" fill="#14508a"/>
<polygon points="136.32,282.6 138.07,286.06 134.57,286.06" fill="#14508a"/>
<polygon points="137.95,282.96 139.7,286.43 136.2,286.43" fill="#14508a"/>
<polygon points="139.57,282.96 141.32,286.42 137.82,286.42" fill="#14508a"/>
<polygon points="141.19,283.84 142.94,287.31 139.44,287.31" fill="#14508a"/>
<polygon points="142.82,283.94 144.57,287.41 141.07,287.41" fill="#14508a"/>
<polygon points="144.44,283.87 146.19,287.34 142.69,287.34" fill="#14508a"/>
<polygon points="146.06,284.14 147.81,287.6 144.31,287.6" fill="#14508a"/>
<polygon points="147.69,284.11 149.44,287.58 145.94,287.58" fill="#14508a"/>
<polygon points="149.31,283.99 151.06,287.45 147.56,287.45" fill="#14508a"/>
<polygon points="150.94,284.17 152.69,287.63 149.19,287.63" fill="#14508a"/>
<polygon points="152.56,283.87 154.31,287.34 150.81,287.34" fill="#14508a"/>
<polygon points="154.18,283.72 155.93,287.19 152.43,287.19" fill="#14508a"/>
<polygon points="155.81,283.45 157.56,286.92 154.06,286.92" fill="#14508a"/>
<polygon points="157.43,283.39 159.18,286.85 155.68,286.85" fill="#14508a"/>
<polygon points="159.05,283.01 160.8,286.47 157.3,286.47" fill="#14508a"/>
<polygon points="160.68,282.76 162.43,286.22 158.93,286.22" fill="#14508a"/>
<polygon points="162.3,282.18 164.05,285.65 160.55,285.65" fill="#14508a"/>
<polygon points="134.7,285.69 136.45,289.16 132.95,289.16" fill="#14508a"/>
<polygon points="136.32,285.94 138.07,289.4 134.57,289.4" fill="#14508a"/>
<polygon points="137.95,286.55 139.7,290.01 136.2,290.01" fill="#14508a"/>
<polygon points="139.57,286.75 141.32,290.21 137.82,290.21" fill="#14508a"/>
<polygon points="141.19,287.02 142.94,290.49 139.44,290.49" fill="#14508a"/>
<polygon points="142.82,287.23 144.57,290.7 141.07,290.7" fill="#14508a"/>
<polygon points="144.44,287.17 146.19,290.63 142.69,290.63" fill="#14508a"/>
<polygon points="146.06,287.54 147.81,291 144.31,291" fill="#14508a"/>
<polygon points="147.69,287.78 149.44,291.24 145.94,291.24" fill="#14508a"/>
<polygon points="149.31,287.22 151.06,290.69 147.56,290.69" fill="#14508a"/>
<polygon points="150.94,287.16 152.69,290.62 149.19,290.62" fill="#14508a"/>
<polygon points="152.56,287.09 154.31,290.56 150.81,290.56" fill="#14508a"/>
<polygon points="154.18,287.3 155.93,290.76 152.43,290.76" fill="#14508a"/>
<polygon points="155.81,286.99 157.56,290.45 154.06,290.45" fill="#14508a"/>
<polygon points="157.43,286.88 159.18,290.35 155.68,290.35" fill="#14508a"/>
<polygon points="159.05,286.53 160.8,290 157.3,290" fill="#14508a"/>
<polygon points="160.68,286.11 162.43,289.57 158.93,289.57" fill="#14508a"/>
<polygon points="162.3,285.72 164.05,289.18 160.55,289.18" fill="#14508a"/>
<polygon points="134.9,289.05 136.65,292.51 133.15,292.51" fill="#14508a"/>
<polygon points="136.5,289.6 138.25,293.07 134.75,293.07" fill="#14508a"/>
<polygon points="138.1,289.65 139.85,293.12 136.35,293.12" fill="#14508a"/>
<polygon points="139.7,290.06 141.45,293.52 137.95,293.52" fill="#14508a"/>
<polygon points="141.3,290.41 143.05,293.87 139.55,293.87" fill="#14508a"/>
<polygon points="142.9,290.84 144.65,294.31 141.15,294.31" fill="#14508a"/>
<polygon points="144.5,290.6 146.25,294.07 142.75,294.07" fill="#14508a"/>
<polygon points="146.1,290.66 147.85,294.12 144.35,294.12" fill="#14508a"/>
<polygon points="147.7,290.78 149.45,294.25 145.95,294.25" fill="#14508a"/>
<polygon points="149.3,291.01 151.05,294.48 147.55,294.48" fill="#14508a"/>
<polygon points="150.9,290.78 152.65,294.25 149.15,294.25" fill="#14508a"/>
<polygon points="152.5,290.92 154.25,294.38 150.75,294.38" fill="#14508a"/>
<polygon points="154.1,290.29 155.85,293.75 152.35,293.75" fill="#14508a"/>
<polygon points="155.7,290.54 157.45,294 153.95,294" fill="#14508a"/>
<polygon points="157.3,290.28 159.05,293.74 155.55,293.74" fill="#14508a"/>
<polygon points="158.9,289.61 160.65,293.07 157.15,293.07" fill="#14508a"/>
<polygon points="160.5,289.5 162.25,292.96 158.75,292.96" fill="#14508a"/>
<polygon points="162.1,289.26 163.85,292.72 160.35,292.72" fill="#14508a"/>
<polygon points="136,292.09 137.75,295.55 134.25,295.55" fill="#14508a"/>
<polygon points="137.67,292.67 139.42,296.14 135.92,296.14" fill="#14508a"/>
<polygon points="139.33,293.26 141.08,296.73 137.58,296.73" fill="#14508a"/>
<polygon points="141,293.27 142.75,296.73 139.25,296.73" fill="#14508a"/>
<polygon points="142.67,293.44 144.42,296.91 140.92,296.91" fill="#14508a"/>
<polygon points="144.33,293.56 146.08,297.02 142.58,297.02" fill="#14508a"/>
<polygon points="146,293.9 147.75,297.37 144.25,297.37" fill="#14508a"/>
<polygon points="147.67,293.84 149.42,297.3 145.92,297.3" fill="#14508a"/>
<polygon points="149.33,293.84 151.08,297.31 147.58,297.31" fill="#14508a"/>
<polygon points="151,293.79 152.75,297.25 149.25,297.25" fill="#14508a"/>
<polygon points="152.67,293.77 154.42,297.24 150.92,297.24" fill="#14508a"/>
<polygon points="154.33,293.32 156.08,296.79 152.58,296.79" fill="#14508a"/>
<polygon points="156,293 157.75,296.46 154.25,296.46" fill="#14508a"/>
<polygon points="157.67,292.54 159.42,296.01 155.92,296.01" fill="#14508a"/>
<polygon points="159.33,292.7 161.08,296.17 157.58,296.17" fill="#14508a"/>
<polygon points="161,292.09 162.75,295.55 159.25,295.55" fill="#14508a"/>
<polygon points="141.8,298.11 143.7,301.87 139.9,301.87" fill="#14508a"/>
<polygon points="146.3,299.41 148.2,303.17 144.4,303.17" fill="#14508a"/>
<polygon points="150.4,298.81 152.3,302.57 148.5,302.57" fill="#14508a"/>
<polygon points="154.9,296.01 156.8,299.77 153,299.77" fill="#14508a"/>
<line x1="148.5" y1="284" x2="148.5" y2="297.2" stroke="#333" stroke-width="0.8" stroke-opacity="0.8"/>
<line x1="177" y1="308" x2="205.5" y2="308" stroke="#333" stroke-width="0.8" />
<circle cx="177.3" cy="300.31" r="1.6" fill="#5c2a72"/>
<circle cx="179.62" cy="299.83" r="1.6" fill="#5c2a72"/>
<circle cx="181.93" cy="301.13" r="1.6" fill="#5c2a72"/>
<circle cx="184.25" cy="301.31" r="1.6" fill="#5c2a72"/>
<circle cx="186.57" cy="301.64" r="1.6" fill="#5c2a72"/>
<circle cx="188.88" cy="301.88" r="1.6" fill="#5c2a72"/>
<circle cx="191.2" cy="301.5" r="1.6" fill="#5c2a72"/>
<circle cx="193.52" cy="301.88" r="1.6" fill="#5c2a72"/>
<circle cx="195.83" cy="301.54" r="1.6" fill="#5c2a72"/>
<circle cx="198.15" cy="302.28" r="1.6" fill="#5c2a72"/>
<circle cx="200.47" cy="301.08" r="1.6" fill="#5c2a72"/>
<circle cx="202.78" cy="300.38" r="1.6" fill="#5c2a72"/>
<circle cx="205.1" cy="299.73" r="1.6" fill="#5c2a72"/>
<circle cx="177.3" cy="301.83" r="1.6" fill="#5c2a72"/>
<circle cx="179.62" cy="302.41" r="1.6" fill="#5c2a72"/>
<circle cx="181.93" cy="303.12" r="1.6" fill="#5c2a72"/>
<circle cx="184.25" cy="303.77" r="1.6" fill="#5c2a72"/>
<circle cx="186.57" cy="303.9" r="1.6" fill="#5c2a72"/>
<circle cx="188.88" cy="304.38" r="1.6" fill="#5c2a72"/>
<circle cx="191.2" cy="304.15" r="1.6" fill="#5c2a72"/>
<circle cx="193.52" cy="304.14" r="1.6" fill="#5c2a72"/>
<circle cx="195.83" cy="304.34" r="1.6" fill="#5c2a72"/>
<circle cx="198.15" cy="303.79" r="1.6" fill="#5c2a72"/>
<circle cx="200.47" cy="303.1" r="1.6" fill="#5c2a72"/>
<circle cx="202.78" cy="302.63" r="1.6" fill="#5c2a72"/>
<circle cx="205.1" cy="302.14" r="1.6" fill="#5c2a72"/>
<circle cx="177.6" cy="304.68" r="1.6" fill="#5c2a72"/>
<circle cx="179.87" cy="304.8" r="1.6" fill="#5c2a72"/>
<circle cx="182.13" cy="305.36" r="1.6" fill="#5c2a72"/>
<circle cx="184.4" cy="306.1" r="1.6" fill="#5c2a72"/>
<circle cx="186.67" cy="305.93" r="1.6" fill="#5c2a72"/>
<circle cx="188.93" cy="306.27" r="1.6" fill="#5c2a72"/>
<circle cx="191.2" cy="306.62" r="1.6" fill="#5c2a72"/>
<circle cx="193.47" cy="306.48" r="1.6" fill="#5c2a72"/>
<circle cx="195.73" cy="306.18" r="1.6" fill="#5c2a72"/>
<circle cx="198" cy="306.02" r="1.6" fill="#5c2a72"/>
<circle cx="200.27" cy="304.72" r="1.6" fill="#5c2a72"/>
<circle cx="202.53" cy="305.13" r="1.6" fill="#5c2a72"/>
<circle cx="204.8" cy="303.96" r="1.6" fill="#5c2a72"/>
<circle cx="178" cy="305.98" r="1.6" fill="#5c2a72"/>
<circle cx="180.4" cy="307.2" r="1.6" fill="#5c2a72"/>
<circle cx="182.8" cy="307.88" r="1.6" fill="#5c2a72"/>
<circle cx="185.2" cy="308.03" r="1.6" fill="#5c2a72"/>
<circle cx="187.6" cy="308.17" r="1.6" fill="#5c2a72"/>
<circle cx="190" cy="308.59" r="1.6" fill="#5c2a72"/>
<circle cx="192.4" cy="308.57" r="1.6" fill="#5c2a72"/>
<circle cx="194.8" cy="308.79" r="1.6" fill="#5c2a72"/>
<circle cx="197.2" cy="308.33" r="1.6" fill="#5c2a72"/>
<circle cx="199.6" cy="307.76" r="1.6" fill="#5c2a72"/>
<circle cx="202" cy="307.41" r="1.6" fill="#5c2a72"/>
<circle cx="204.4" cy="306.35" r="1.6" fill="#5c2a72"/>
<circle cx="179" cy="308.17" r="1.6" fill="#5c2a72"/>
<circle cx="181.22" cy="309.27" r="1.6" fill="#5c2a72"/>
<circle cx="183.44" cy="309.85" r="1.6" fill="#5c2a72"/>
<circle cx="185.65" cy="310.09" r="1.6" fill="#5c2a72"/>
<circle cx="187.87" cy="310.24" r="1.6" fill="#5c2a72"/>
<circle cx="190.09" cy="310.64" r="1.6" fill="#5c2a72"/>
<circle cx="192.31" cy="309.96" r="1.6" fill="#5c2a72"/>
<circle cx="194.53" cy="310.61" r="1.6" fill="#5c2a72"/>
<circle cx="196.75" cy="310.27" r="1.6" fill="#5c2a72"/>
<circle cx="198.96" cy="309.3" r="1.6" fill="#5c2a72"/>
<circle cx="201.18" cy="309.14" r="1.6" fill="#5c2a72"/>
<circle cx="203.4" cy="308.16" r="1.6" fill="#5c2a72"/>
<circle cx="180.7" cy="310.39" r="1.6" fill="#5c2a72"/>
<circle cx="183.03" cy="310.56" r="1.6" fill="#5c2a72"/>
<circle cx="185.37" cy="311.49" r="1.6" fill="#5c2a72"/>
<circle cx="187.7" cy="312.33" r="1.6" fill="#5c2a72"/>
<circle cx="190.03" cy="312.66" r="1.6" fill="#5c2a72"/>
<circle cx="192.37" cy="311.83" r="1.6" fill="#5c2a72"/>
<circle cx="194.7" cy="312.03" r="1.6" fill="#5c2a72"/>
<circle cx="197.03" cy="311.8" r="1.6" fill="#5c2a72"/>
<circle cx="199.37" cy="310.92" r="1.6" fill="#5c2a72"/>
<circle cx="201.7" cy="310.6" r="1.6" fill="#5c2a72"/>
<polyline points="179.2,302.8 180.4,303.14 181.6,303.45 182.8,303.72 184,303.95 185.2,304.15 186.4,304.31 187.6,304.44 188.8,304.53 190,304.58 191.2,304.6 192.4,304.58 193.6,304.53 194.8,304.44 196,304.31 197.2,304.15 198.4,303.95 199.6,303.72 200.8,303.45 202,303.14 203.2,302.8" fill="none" stroke="#fff" stroke-width="0.7" stroke-linejoin="round" stroke-opacity="0.9"/>
<polyline points="179.7,307.4 180.85,307.74 182,308.05 183.15,308.32 184.3,308.55 185.45,308.75 186.6,308.91 187.75,309.04 188.9,309.13 190.05,309.18 191.2,309.2 192.35,309.18 193.5,309.13 194.65,309.04 195.8,308.91 196.95,308.75 198.1,308.55 199.25,308.32 200.4,308.05 201.55,307.74 202.7,307.4" fill="none" stroke="#fff" stroke-width="0.7" stroke-linejoin="round" stroke-opacity="0.9"/>
<circle cx="186.6" cy="315.8" r="1.45" fill="#5c2a72"/>
<circle cx="195.8" cy="316" r="1.45" fill="#5c2a72"/>
<circle cx="191.2" cy="320" r="1.45" fill="#5c2a72"/>
<circle cx="183.5" cy="313.8" r="1.45" fill="#5c2a72"/>
<circle cx="199" cy="313.8" r="1.45" fill="#5c2a72"/>
<line x1="176.5" y1="308" x2="179" y2="308" stroke="#333" stroke-width="0.8" />
<line x1="203.5" y1="308" x2="206" y2="308" stroke="#333" stroke-width="0.8" />
<polyline points="144.1,241.6 144.95,239.8 145.8,241.6" fill="none" stroke="#333" stroke-width="0.65" stroke-linejoin="miter"/>
<polyline points="146.6,241.6 147.45,239.8 148.3,241.6" fill="none" stroke="#333" stroke-width="0.65" stroke-linejoin="miter"/>
<polyline points="149.1,241.6 149.95,239.8 150.8,241.6" fill="none" stroke="#333" stroke-width="0.65" stroke-linejoin="miter"/>
<polyline points="151.6,241.6 152.45,239.8 153.3,241.6" fill="none" stroke="#333" stroke-width="0.65" stroke-linejoin="miter"/>
<text transform="translate(181.8,292.4)" font-size="7.0" text-anchor="start" font-weight="normal" font-style="normal" fill="#222" letter-spacing="1.3" stroke="#222" stroke-width="0.1">####</text>
<text transform="translate(232.6,204.7)" font-size="11" text-anchor="start" font-weight="bold" font-style="normal" fill="#000" >D</text>
<line x1="265.6" y1="203.2" x2="265.6" y2="215" stroke="#111" stroke-width="1.2" />
<line x1="267.5" y1="208.8" x2="312" y2="208.8" stroke="#111" stroke-width="1.3" stroke-dasharray="3,2"/>
<line x1="313.5" y1="208.8" x2="404.5" y2="208.8" stroke="#111" stroke-width="1.3" />
<line x1="404.3" y1="206" x2="404.3" y2="212" stroke="#111" stroke-width="1.0" />
<line x1="406.8" y1="206" x2="406.8" y2="212" stroke="#111" stroke-width="1.0" />
<line x1="406.8" y1="209" x2="499.7" y2="209" stroke="#111" stroke-width="1.3" />
<line x1="499.7" y1="206" x2="499.7" y2="212" stroke="#111" stroke-width="1.2" />
<text transform="translate(269.5,205.5)" font-size="9.3" text-anchor="start" font-weight="normal" font-style="normal" fill="#000"  textLength="130.5" lengthAdjust="spacingAndGlyphs" stroke="#000" stroke-width="0.1">&#8709; Ca<tspan font-size="6" dy="-3.4">2+</tspan><tspan dy="3.4"> + (EGTA 500 iM) 600 s.</tspan></text>
<text transform="translate(435.8,205.7)" font-size="9.3" text-anchor="start" font-weight="normal" font-style="normal" fill="#000"  textLength="45.4" lengthAdjust="spacingAndGlyphs" stroke="#000" stroke-width="0.1">Ca<tspan font-size="6" dy="-3.4">2+</tspan><tspan dy="3.4"> 2 mM</tspan></text>
<line x1="321.25" y1="219.5" x2="321.25" y2="342" stroke="#151515" stroke-width="1.3" />
<line x1="320.6" y1="341.3" x2="507" y2="341.3" stroke="#151515" stroke-width="1.3" />
<line x1="317.8" y1="321.75" x2="321.25" y2="321.75" stroke="#151515" stroke-width="1" />
<text transform="translate(316.6,324.35)" font-size="7.4" text-anchor="end" font-weight="normal" font-style="normal" fill="#000"  stroke="#000" stroke-width="0.1">0.00</text>
<line x1="317.8" y1="272.35" x2="321.25" y2="272.35" stroke="#151515" stroke-width="1" />
<text transform="translate(316.6,274.95)" font-size="7.4" text-anchor="end" font-weight="normal" font-style="normal" fill="#000"  stroke="#000" stroke-width="0.1">0.05</text>
<line x1="317.8" y1="222.95" x2="321.25" y2="222.95" stroke="#151515" stroke-width="1" />
<text transform="translate(316.6,225.55)" font-size="7.4" text-anchor="end" font-weight="normal" font-style="normal" fill="#000"  stroke="#000" stroke-width="0.1">0.10</text>
<line x1="321.25" y1="341.3" x2="321.25" y2="344.6" stroke="#151515" stroke-width="1" />
<text transform="translate(321.25,353.2)" font-size="7.4" text-anchor="middle" font-weight="normal" font-style="normal" fill="#000"  stroke="#000" stroke-width="0.1">0</text>
<line x1="351.7" y1="341.3" x2="351.7" y2="344.6" stroke="#151515" stroke-width="1" />
<text transform="translate(351.7,353.2)" font-size="7.4" text-anchor="middle" font-weight="normal" font-style="normal" fill="#000"  stroke="#000" stroke-width="0.1">100</text>
<line x1="382.15" y1="341.3" x2="382.15" y2="344.6" stroke="#151515" stroke-width="1" />
<text transform="translate(382.15,353.2)" font-size="7.4" text-anchor="middle" font-weight="normal" font-style="normal" fill="#000"  stroke="#000" stroke-width="0.1">200</text>
<line x1="412.6" y1="341.3" x2="412.6" y2="344.6" stroke="#151515" stroke-width="1" />
<text transform="translate(412.6,353.2)" font-size="7.4" text-anchor="middle" font-weight="normal" font-style="normal" fill="#000"  stroke="#000" stroke-width="0.1">300</text>
<line x1="443.05" y1="341.3" x2="443.05" y2="344.6" stroke="#151515" stroke-width="1" />
<text transform="translate(443.05,353.2)" font-size="7.4" text-anchor="middle" font-weight="normal" font-style="normal" fill="#000"  stroke="#000" stroke-width="0.1">400</text>
<line x1="473.5" y1="341.3" x2="473.5" y2="344.6" stroke="#151515" stroke-width="1" />
<text transform="translate(473.5,353.2)" font-size="7.4" text-anchor="middle" font-weight="normal" font-style="normal" fill="#000"  stroke="#000" stroke-width="0.1">500</text>
<line x1="503.95" y1="341.3" x2="503.95" y2="344.6" stroke="#151515" stroke-width="1" />
<text transform="translate(503.95,353.2)" font-size="7.4" text-anchor="middle" font-weight="normal" font-style="normal" fill="#000"  stroke="#000" stroke-width="0.1">600</text>
<text transform="translate(413.8,365)" font-size="8.6" text-anchor="middle" font-weight="normal" font-style="normal" fill="#000"  textLength="24.5" lengthAdjust="spacingAndGlyphs" stroke="#000" stroke-width="0.1">Time (s)</text>
<text transform="translate(295.3,280.2) rotate(-90)" font-size="8.6" text-anchor="middle" font-weight="normal" font-style="normal" fill="#000"  textLength="18.4" lengthAdjust="spacingAndGlyphs" stroke="#000" stroke-width="0.1">&#916;F/F<tspan font-size="5.5" dy="1.8">0</tspan><tspan dy="-1.8"></tspan></text>
<polyline points="321.25,322.52 322.01,321.54 322.77,321.28 323.53,321.8 324.3,321.37 325.06,321.15 325.82,320.27 326.58,320.23 327.34,319.5 328.1,320.44 328.86,318.41 329.62,319.65 330.38,293.75 331.15,290.45 331.91,289.17 332.67,288.19 333.43,287.63 334.19,287.75 334.95,287.34 335.71,286.54 336.48,286.92 337.24,286.91 338,285.86 338.76,286.28 339.52,286.78 340.28,286.13 341.04,285.85 341.8,286.1 342.56,286.14 343.33,285.28 344.09,284.74 344.85,285.19 345.61,285.34 346.37,284.67 347.13,284.43 347.89,284.89 348.65,284.43 349.42,284.14 350.18,284.71 350.94,284.97 351.7,284.35 352.46,284.36 353.22,283.89 353.98,285.03 354.75,284.68 355.51,284.72 356.27,285.12 357.03,284.16 357.79,283.92 358.55,284.5 359.31,283.41 360.07,283.64 360.83,283.7 361.6,283.76 362.36,283.45 363.12,284.53 363.88,283.53 364.64,283.49 365.4,284.62 366.16,283.54 366.93,283.82 367.69,283.3 368.45,283.89 369.21,283.67 369.97,283.48 370.73,284.06 371.49,283.32 372.25,283.66 373.01,283.35 373.78,283.84 374.54,283.03 375.3,283.25 376.06,283.63 376.82,283.22 377.58,282.89 378.34,282.62 379.11,284.27 379.87,283.04 380.63,283.23 381.39,283.5 382.15,283.93 382.91,282.8 383.67,284.03 384.43,283.12 385.19,282.74 385.96,284.16 386.72,283.51 387.48,283.99 388.24,283.21 389,282.57 389.76,282.31 390.52,284.17 391.28,283.56 392.05,282.92 392.81,282.47 393.57,283.03 394.33,283.6 395.09,283.06 395.85,283.18 396.61,283.24 397.38,283.47 398.14,282.88 398.9,282.88 399.66,283.05 400.42,283.07 401.18,283.56 401.94,283.13 402.7,282.26 403.47,282.92 404.23,283.5 404.99,282.09 405.75,282.45 406.51,281.64 407.27,282.62 408.03,282.84 408.79,283.29 409.56,281.89 410.32,281.24 411.08,282.88 411.84,282.75 412.6,279.37 413.36,276.61 414.12,272.34 414.88,268.25 415.64,263.86 416.41,260.34 417.17,257.8 417.93,254.62 418.69,253.84 419.45,252.04 420.21,251.83 420.97,250.27 421.74,248.79 422.5,249.1 423.26,248.15 424.02,247.8 424.78,247.3 425.54,247.81 426.3,247.97 427.06,248.79 427.82,249.34 428.59,249.62 429.35,249.76 430.11,250.26 430.87,250.09 431.63,249.99 432.39,249.95 433.15,250.36 433.91,251.27 434.68,250.73 435.44,250.96 436.2,250.91 436.96,251.54 437.72,252.52 438.48,252.94 439.24,251.96 440,252.89 440.77,252.55 441.53,252.6 442.29,254.25 443.05,253.85 443.81,254.01 444.57,254.15 445.33,254.36 446.1,254.61 446.86,254.67 447.62,255.55 448.38,254.95 449.14,255.29 449.9,254.91 450.66,255.25 451.42,254.77 452.19,254.72 452.95,255.03 453.71,255.07 454.47,255.24 455.23,255.56 455.99,255.42 456.75,255.55 457.51,255.08 458.27,255.23 459.04,254.92 459.8,255.83 460.56,254.7 461.32,255.48 462.08,255.43 462.84,255.13 463.6,255.28 464.37,254.82 465.13,255.22 465.89,255.43 466.65,255.29 467.41,254.19 468.17,254.78 468.93,255.34 469.69,254.73 470.45,255.47 471.22,253.78 471.98,255.39 472.74,254.36 473.5,254.3" fill="none" stroke="#14508a" stroke-width="1.3" stroke-linejoin="round" />
<polyline points="321.25,323.26 322.01,322.06 322.77,321.39 323.53,321.32 324.3,321.09 325.06,320.42 325.82,320.47 326.58,320.04 327.34,319.93 328.1,319.21 328.86,319.65 329.62,319.21 330.38,305.2 331.15,303.02 331.91,301.68 332.67,300.87 333.43,301.08 334.19,301.65 334.95,300.9 335.71,301.31 336.48,300.99 337.24,300.74 338,301.82 338.76,300.48 339.52,300.97 340.28,300.7 341.04,300.98 341.8,300.41 342.56,299.22 343.33,297.43 344.09,296.1 344.85,296.41 345.61,295.58 346.37,295.98 347.13,296.52 347.89,295.37 348.65,295.17 349.42,295.55 350.18,295.14 350.94,294.96 351.7,295.62 352.46,295.87 353.22,295.2 353.98,295.15 354.75,295.17 355.51,294.46 356.27,294.04 357.03,295.07 357.79,294.51 358.55,294.37 359.31,294.47 360.07,294.29 360.83,294.98 361.6,294.41 362.36,293.76 363.12,294.34 363.88,295.03 364.64,294.41 365.4,294.07 366.16,294.5 366.93,294.94 367.69,293.89 368.45,295.25 369.21,294.37 369.97,294.61 370.73,295.17 371.49,293.97 372.25,294.38 373.01,295.11 373.78,294.22 374.54,294.72 375.3,295.43 376.06,294.82 376.82,294.34 377.58,294.15 378.34,294.37 379.11,294.42 379.87,294.2 380.63,294.53 381.39,293.84 382.15,294.34 382.91,294.26 383.67,294.13 384.43,294.91 385.19,294.73 385.96,293.61 386.72,294.2 387.48,294.49 388.24,294.18 389,294.57 389.76,294.19 390.52,294.65 391.28,294.18 392.05,295.08 392.81,293.64 393.57,294.54 394.33,295.06 395.09,294.38 395.85,294.45 396.61,294.18 397.38,294.81 398.14,294.04 398.9,292.44 399.66,294.85 400.42,294.05 401.18,294.36 401.94,294.1 402.7,295.08 403.47,294.75 404.23,293.94 404.99,294.18 405.75,293.35 406.51,294.49 407.27,294.05 408.03,292.69 408.79,294.5 409.56,294.56 410.32,294.12 411.08,294.12 411.84,293.67 412.6,291.69 413.36,289.21 414.12,286.55 414.88,283.35 415.64,282.02 416.41,282.25 417.17,280.08 417.93,279.59 418.69,277.99 419.45,277.53 420.21,275.63 420.97,275.26 421.74,274.43 422.5,274.21 423.26,273.94 424.02,273.38 424.78,272.53 425.54,272.54 426.3,272.6 427.06,271.42 427.82,271.58 428.59,271.34 429.35,271.32 430.11,270.83 430.87,270.49 431.63,271.43 432.39,269.42 433.15,269.51 433.91,269.77 434.68,269.02 435.44,269.19 436.2,269.09 436.96,270.37 437.72,269.13 438.48,268.63 439.24,267.97 440,267.72 440.77,267.8 441.53,268.95 442.29,269.33 443.05,267.84 443.81,267.98 444.57,267.39 445.33,267.79 446.1,267.68 446.86,268.64 447.62,267.78 448.38,268.32 449.14,268.04 449.9,268.09 450.66,268.48 451.42,268.37 452.19,268.64 452.95,268.36 453.71,268.59 454.47,269.21 455.23,269.34 455.99,268.27 456.75,269.24 457.51,268.76 458.27,269.12 459.04,269.66 459.8,269.81 460.56,269.44 461.32,269.44 462.08,269.33 462.84,270.32 463.6,270.05 464.37,269.86 465.13,269.09 465.89,271.11 466.65,269.79 467.41,270.34 468.17,269.92 468.93,270.44 469.69,270.08 470.45,269.55 471.22,270.21 471.98,270.23 472.74,270.32 473.5,270.94" fill="none" stroke="#c8102e" stroke-width="1.3" stroke-linejoin="round" />
<polyline points="321.25,322.27 322.01,322.31 322.77,322.28 323.53,321.57 324.3,321.34 325.06,320.52 325.82,320.57 326.58,320.47 327.34,319.15 328.1,319.03 328.86,318.55 329.62,319.3 330.38,300.07 331.15,298.16 331.91,297.63 332.67,296.96 333.43,297.31 334.19,298.03 334.95,297.25 335.71,297.87 336.48,297.02 337.24,297.69 338,297.92 338.76,297.44 339.52,297.75 340.28,298.74 341.04,297.75 341.8,297.26 342.56,299.26 343.33,297.88 344.09,299.37 344.85,299.52 345.61,299.61 346.37,300.48 347.13,299.37 347.89,300.02 348.65,300.88 349.42,300.58 350.18,301.13 350.94,300.49 351.7,299.8 352.46,301.05 353.22,300.35 353.98,300 354.75,299.5 355.51,299.24 356.27,300.03 357.03,300.06 357.79,299.36 358.55,299.66 359.31,299.53 360.07,298.73 360.83,298.32 361.6,298.92 362.36,299.04 363.12,298.56 363.88,299.66 364.64,298.63 365.4,299.04 366.16,297.24 366.93,297.99 367.69,298.21 368.45,298.31 369.21,299.38 369.97,297.72 370.73,297.2 371.49,298.29 372.25,297.53 373.01,297.44 373.78,298.49 374.54,297.19 375.3,296.92 376.06,297.43 376.82,297.57 377.58,297.14 378.34,298.29 379.11,297.48 379.87,297 380.63,298.13 381.39,297.02 382.15,297.72 382.91,298.53 383.67,297.55 384.43,297.98 385.19,297.33 385.96,298.07 386.72,296.97 387.48,297.85 388.24,297.3 389,297.77 389.76,297.63 390.52,296.87 391.28,297.35 392.05,297.65 392.81,298.07 393.57,296.87 394.33,297.08 395.09,297.6 395.85,297.31 396.61,297.94 397.38,297.93 398.14,297.83 398.9,297.24 399.66,297.27 400.42,297.78 401.18,297.04 401.94,297.01 402.7,297.31 403.47,296.88 404.23,297.53 404.99,297.44 405.75,297.15 406.51,297.39 407.27,296.98 408.03,297.99 408.79,296.66 409.56,297.75 410.32,297.44 411.08,298.03 411.84,297.05 412.6,294.37 413.36,291.53 414.12,288.7 414.88,286.95 415.64,285.47 416.41,284.68 417.17,284.28 417.93,282.63 418.69,282.46 419.45,281.93 420.21,281.04 420.97,281.12 421.74,280.46 422.5,280.02 423.26,279.06 424.02,278.85 424.78,278.44 425.54,277.91 426.3,278.83 427.06,278.15 427.82,277.51 428.59,277.97 429.35,277.28 430.11,276.23 430.87,275.9 431.63,275.62 432.39,275.85 433.15,275.69 433.91,274.84 434.68,275.48 435.44,275.04 436.2,274.46 436.96,275.21 437.72,275.25 438.48,274.86 439.24,274.48 440,275.6 440.77,277.54 441.53,275.04 442.29,276.24 443.05,276 443.81,275.63 444.57,276.3 445.33,276.64 446.1,276.54 446.86,276.32 447.62,275.88 448.38,276.21 449.14,275.52 449.9,274.72 450.66,275.55 451.42,274.94 452.19,276.23 452.95,277.72 453.71,278.09 454.47,278.78 455.23,277.94 455.99,278.92 456.75,277.72 457.51,278.12 458.27,279.43 459.04,278.07 459.8,277.72 460.56,278.9 461.32,278.05 462.08,279.45 462.84,278.47 463.6,279.44 464.37,278.41 465.13,279.56 465.89,280 466.65,278.53 467.41,277.62 468.17,279.07 468.93,278.4 469.69,278.78 470.45,279.02 471.22,278.58 471.98,278.1 472.74,279.55 473.5,278.69" fill="none" stroke="#3db54a" stroke-width="1.3" stroke-linejoin="round" />
<polyline points="321.25,322.37 322.01,322.91 322.77,321.08 323.53,320.59 324.3,321.69 325.06,320.03 325.82,320.52 326.58,320.29 327.34,319.12 328.1,319.41 328.86,319.02 329.62,318.85 330.38,309.26 331.15,302.39 331.91,300.15 332.67,300.31 333.43,299.06 334.19,300.16 334.95,299.71 335.71,300.4 336.48,300.04 337.24,300.63 338,299.13 338.76,300.38 339.52,299.88 340.28,299.85 341.04,299.1 341.8,300.33 342.56,299.59 343.33,299.61 344.09,299.18 344.85,299.15 345.61,299.55 346.37,299.14 347.13,299.38 347.89,298.91 348.65,299.13 349.42,299.34 350.18,298.97 350.94,298.71 351.7,297.71 352.46,299.01 353.22,298.55 353.98,297.92 354.75,299.61 355.51,299.38 356.27,299.05 357.03,298.48 357.79,297.2 358.55,298.2 359.31,297.78 360.07,298.47 360.83,299.56 361.6,299.47 362.36,297.81 363.12,298.21 363.88,298.92 364.64,297.72 365.4,299.01 366.16,297.68 366.93,297.5 367.69,298.58 368.45,298.74 369.21,297.76 369.97,298.7 370.73,297.72 371.49,298.72 372.25,297.71 373.01,298.05 373.78,298.29 374.54,298.51 375.3,297.93 376.06,298.97 376.82,298.16 377.58,298.21 378.34,297.67 379.11,298.61 379.87,297.14 380.63,298.13 381.39,298.52 382.15,297.27 382.91,297.12 383.67,298.02 384.43,298.36 385.19,297.9 385.96,298.24 386.72,298.04 387.48,297.11 388.24,297.67 389,297.79 389.76,297.68 390.52,297.87 391.28,297.41 392.05,297.38 392.81,297.99 393.57,297.74 394.33,296.59 395.09,297.57 395.85,297.86 396.61,296.74 397.38,297.74 398.14,298.27 398.9,297.39 399.66,298.16 400.42,297.95 401.18,297.53 401.94,297.74 402.7,298.05 403.47,297.93 404.23,297.94 404.99,297.06 405.75,297.99 406.51,297.9 407.27,296.6 408.03,297.87 408.79,296.85 409.56,296.93 410.32,297.64 411.08,298.26 411.84,297.32 412.6,295.35 413.36,292.89 414.12,291.01 414.88,288.13 415.64,287.07 416.41,287.66 417.17,285.81 417.93,285.8 418.69,285.55 419.45,284.8 420.21,283.09 420.97,282.91 421.74,283.66 422.5,282.37 423.26,282.3 424.02,282.13 424.78,282.11 425.54,282.38 426.3,281.05 427.06,281.75 427.82,281.29 428.59,281.21 429.35,281.09 430.11,280.17 430.87,280.16 431.63,280.63 432.39,280.72 433.15,280.43 433.91,279.67 434.68,280.03 435.44,279.93 436.2,280.15 436.96,280.09 437.72,279.86 438.48,280.89 439.24,279.19 440,280.38 440.77,280.28 441.53,279.35 442.29,279.91 443.05,280.01 443.81,280.32 444.57,280.81 445.33,279.96 446.1,279.47 446.86,280.51 447.62,279.4 448.38,280.64 449.14,280.45 449.9,279.85 450.66,280.11 451.42,279.77 452.19,280.49 452.95,280.64 453.71,281.06 454.47,280.74 455.23,280.69 455.99,280.87 456.75,280.02 457.51,280.51 458.27,281.17 459.04,278.97 459.8,280.62 460.56,280.83 461.32,279.61 462.08,279.65 462.84,280.81 463.6,280.97 464.37,280.75 465.13,279.71 465.89,280.42 466.65,280.68 467.41,280.3 468.17,279.7 468.93,280.99 469.69,280.5 470.45,281 471.22,279.26 471.98,279.44 472.74,279.87 473.5,280.42" fill="none" stroke="#5c2a72" stroke-width="1.3" stroke-linejoin="round" />
<line x1="339.2" y1="330.8" x2="333.91" y2="326.02" stroke="#000" stroke-width="1.3" />
<polygon points="330.8,323.2 336.6,324.54 334.06,326.15 332.71,328.84" fill="#000"/>
<text transform="translate(343.4,330)" font-size="7.9" text-anchor="start" font-weight="normal" font-style="normal" fill="#000"  textLength="19" lengthAdjust="spacingAndGlyphs" stroke="#000" stroke-width="0.1">tBHQ</text>
<text transform="translate(342.8,338.8)" font-size="7.9" text-anchor="start" font-weight="normal" font-style="normal" fill="#000"  textLength="20" lengthAdjust="spacingAndGlyphs" stroke="#000" stroke-width="0.1">50 &#956;M</text>
<line x1="404" y1="313.6" x2="411.64" y2="303.51" stroke="#000" stroke-width="1.3" />
<polygon points="414.3,300 413.43,306.12 411.52,303.67 408.65,302.49" fill="#000"/>
<text transform="translate(389.5,322)" font-size="8.2" text-anchor="start" font-weight="normal" font-style="normal" fill="#000"  stroke="#000" stroke-width="0.1">Ca<tspan font-size="5.5" dy="-3.2">2+</tspan><tspan dy="3.2"></tspan></text>
<text transform="translate(389.8,330.4)" font-size="8.2" text-anchor="start" font-weight="normal" font-style="normal" fill="#000"  stroke="#000" stroke-width="0.1">2mM</text>
<rect x="344.5" y="219" width="68" height="53" fill="#fff"/>
<text transform="translate(377.8,224)" font-size="5.0" text-anchor="middle" font-weight="normal" font-style="normal" fill="#555"  stroke="#555" stroke-width="0.1">tBHQ-induced release</text>
<line x1="343.75" y1="224" x2="343.75" y2="273" stroke="#151515" stroke-width="1.1" />
<line x1="343.2" y1="272.5" x2="413" y2="272.5" stroke="#151515" stroke-width="1.1" />
<line x1="341.5" y1="272.5" x2="343.75" y2="272.5" stroke="#151515" stroke-width="0.9" />
<text transform="translate(339.5,274.4) scale(0.78,1)" font-size="5.4" text-anchor="end" font-weight="bold" font-style="normal" fill="#000" >0.00</text>
<line x1="341.5" y1="257.5" x2="343.75" y2="257.5" stroke="#151515" stroke-width="0.9" />
<text transform="translate(339.5,259.4) scale(0.78,1)" font-size="5.4" text-anchor="end" font-weight="bold" font-style="normal" fill="#000" >0.02</text>
<line x1="341.5" y1="242.5" x2="343.75" y2="242.5" stroke="#151515" stroke-width="0.9" />
<text transform="translate(339.5,244.4) scale(0.78,1)" font-size="5.4" text-anchor="end" font-weight="bold" font-style="normal" fill="#000" >0.04</text>
<line x1="341.5" y1="227.5" x2="343.75" y2="227.5" stroke="#151515" stroke-width="0.9" />
<text transform="translate(339.5,229.4) scale(0.78,1)" font-size="5.4" text-anchor="end" font-weight="bold" font-style="normal" fill="#000" >0.06</text>
<text transform="translate(328.2,248.7) rotate(-90)" font-size="5.6" text-anchor="middle" font-weight="bold" font-style="normal" fill="#000"  textLength="8.2" lengthAdjust="spacingAndGlyphs">AUC</text>
<line x1="352" y1="256.07" x2="352" y2="258.32" stroke="#222" stroke-width="0.9" />
<line x1="352" y1="262.15" x2="352" y2="264.32" stroke="#222" stroke-width="0.9" />
<line x1="348.59" y1="256.07" x2="355.41" y2="256.07" stroke="#222" stroke-width="0.9" />
<line x1="348.59" y1="264.32" x2="355.41" y2="264.32" stroke="#222" stroke-width="0.9" />
<rect x="346.5" y="258.32" width="11" height="3.82" fill="#c8102e" stroke="#a00020" stroke-width="0.7"/>
<line x1="346.5" y1="260.12" x2="357.5" y2="260.12" stroke="#111" stroke-width="1.25" />
<line x1="369.3" y1="247.53" x2="369.3" y2="254.28" stroke="#222" stroke-width="0.9" />
<line x1="369.3" y1="262.9" x2="369.3" y2="264.32" stroke="#222" stroke-width="0.9" />
<line x1="365.89" y1="247.53" x2="372.71" y2="247.53" stroke="#222" stroke-width="0.9" />
<line x1="365.89" y1="264.32" x2="372.71" y2="264.32" stroke="#222" stroke-width="0.9" />
<rect x="363.8" y="254.28" width="11" height="8.62" fill="#3db54a" stroke="#1f9a35" stroke-width="0.7"/>
<line x1="363.8" y1="256.07" x2="374.8" y2="256.07" stroke="#111" stroke-width="1.25" />
<line x1="386.4" y1="235.53" x2="386.4" y2="241.07" stroke="#222" stroke-width="0.9" />
<line x1="386.4" y1="248.72" x2="386.4" y2="250.15" stroke="#222" stroke-width="0.9" />
<line x1="383.18" y1="235.53" x2="389.62" y2="235.53" stroke="#222" stroke-width="0.9" />
<line x1="383.18" y1="250.15" x2="389.62" y2="250.15" stroke="#222" stroke-width="0.9" />
<rect x="381.2" y="241.07" width="10.4" height="7.65" fill="#14508a" stroke="#0a3a6a" stroke-width="0.7"/>
<line x1="381.2" y1="246.03" x2="391.6" y2="246.03" stroke="#111" stroke-width="1.25" />
<line x1="403.6" y1="250.6" x2="403.6" y2="253.45" stroke="#222" stroke-width="0.9" />
<line x1="403.6" y1="260.73" x2="403.6" y2="263.43" stroke="#222" stroke-width="0.9" />
<line x1="400.25" y1="250.6" x2="406.95" y2="250.6" stroke="#222" stroke-width="0.9" />
<line x1="400.25" y1="263.43" x2="406.95" y2="263.43" stroke="#222" stroke-width="0.9" />
<rect x="398.2" y="253.45" width="10.8" height="7.28" fill="#5c2a72" stroke="#3a1050" stroke-width="0.7"/>
<line x1="398.2" y1="256.3" x2="409" y2="256.3" stroke="#111" stroke-width="1.25" />
<polyline points="382.5,231.8 383.3,230.2 384.1,231.8" fill="none" stroke="#333" stroke-width="0.6" stroke-linejoin="miter"/>
<polyline points="384.9,231.8 385.7,230.2 386.5,231.8" fill="none" stroke="#333" stroke-width="0.6" stroke-linejoin="miter"/>
<polyline points="387.3,231.8 388.1,230.2 388.9,231.8" fill="none" stroke="#333" stroke-width="0.6" stroke-linejoin="miter"/>
<polyline points="389.7,231.8 390.5,230.2 391.3,231.8" fill="none" stroke="#333" stroke-width="0.6" stroke-linejoin="miter"/>
<text transform="translate(403.6,249.3)" font-size="5.8" text-anchor="middle" font-weight="normal" font-style="italic" fill="#333"  stroke="#333" stroke-width="0.1">###</text>
<rect x="435.5" y="291" width="66" height="46" fill="#fff" fill-opacity="0.0"/>
<text transform="translate(468.9,289)" font-size="5.3" text-anchor="middle" font-weight="normal" font-style="normal" fill="#444"  stroke="#444" stroke-width="0.1">SOCE</text>
<line x1="434.6" y1="291.5" x2="434.6" y2="338" stroke="#151515" stroke-width="1.1" />
<line x1="434" y1="337.5" x2="503.5" y2="337.5" stroke="#151515" stroke-width="1.1" />
<line x1="432.5" y1="337.5" x2="434.6" y2="337.5" stroke="#151515" stroke-width="0.9" />
<text transform="translate(430.8,339.4) scale(0.78,1)" font-size="5.4" text-anchor="end" font-weight="bold" font-style="normal" fill="#000" >0.00</text>
<line x1="432.5" y1="328.84" x2="434.6" y2="328.84" stroke="#151515" stroke-width="0.9" />
<text transform="translate(430.8,330.74) scale(0.78,1)" font-size="5.4" text-anchor="end" font-weight="bold" font-style="normal" fill="#000" >0.02</text>
<line x1="432.5" y1="320.18" x2="434.6" y2="320.18" stroke="#151515" stroke-width="0.9" />
<text transform="translate(430.8,322.08) scale(0.78,1)" font-size="5.4" text-anchor="end" font-weight="bold" font-style="normal" fill="#000" >0.04</text>
<line x1="432.5" y1="311.52" x2="434.6" y2="311.52" stroke="#151515" stroke-width="0.9" />
<text transform="translate(430.8,313.42) scale(0.78,1)" font-size="5.4" text-anchor="end" font-weight="bold" font-style="normal" fill="#000" >0.06</text>
<line x1="432.5" y1="302.86" x2="434.6" y2="302.86" stroke="#151515" stroke-width="0.9" />
<text transform="translate(430.8,304.76) scale(0.78,1)" font-size="5.4" text-anchor="end" font-weight="bold" font-style="normal" fill="#000" >0.08</text>
<line x1="432.5" y1="294.2" x2="434.6" y2="294.2" stroke="#151515" stroke-width="0.9" />
<text transform="translate(430.8,296.1) scale(0.78,1)" font-size="5.4" text-anchor="end" font-weight="bold" font-style="normal" fill="#000" >0.10</text>
<text transform="translate(418.2,314.9) rotate(-90)" font-size="5.6" text-anchor="middle" font-weight="bold" font-style="normal" fill="#000"  textLength="8.0" lengthAdjust="spacingAndGlyphs">AUC</text>
<line x1="443.15" y1="317.8" x2="443.15" y2="318.23" stroke="#222" stroke-width="0.9" />
<line x1="443.15" y1="319.1" x2="443.15" y2="322.35" stroke="#222" stroke-width="0.9" />
<line x1="439.65" y1="317.8" x2="446.65" y2="317.8" stroke="#222" stroke-width="0.9" />
<line x1="439.65" y1="322.35" x2="446.65" y2="322.35" stroke="#222" stroke-width="0.9" />
<rect x="437.5" y="318.23" width="11.3" height="0.87" fill="#c8102e" stroke="#a00020" stroke-width="0.7"/>
<line x1="437.5" y1="318.66" x2="448.8" y2="318.66" stroke="#111" stroke-width="1.25" />
<line x1="459.45" y1="317.15" x2="459.45" y2="322.35" stroke="#222" stroke-width="0.9" />
<line x1="459.45" y1="326.46" x2="459.45" y2="329.71" stroke="#222" stroke-width="0.9" />
<line x1="455.95" y1="317.15" x2="462.95" y2="317.15" stroke="#222" stroke-width="0.9" />
<line x1="455.95" y1="329.71" x2="462.95" y2="329.71" stroke="#222" stroke-width="0.9" />
<rect x="453.8" y="322.35" width="11.3" height="4.11" fill="#3db54a" stroke="#1f9a35" stroke-width="0.7"/>
<line x1="453.8" y1="323.43" x2="465.1" y2="323.43" stroke="#111" stroke-width="1.25" />
<line x1="475.65" y1="299.18" x2="475.65" y2="300.69" stroke="#222" stroke-width="0.9" />
<line x1="475.65" y1="310.22" x2="475.65" y2="313.25" stroke="#222" stroke-width="0.9" />
<line x1="472.15" y1="299.18" x2="479.15" y2="299.18" stroke="#222" stroke-width="0.9" />
<line x1="472.15" y1="313.25" x2="479.15" y2="313.25" stroke="#222" stroke-width="0.9" />
<rect x="470" y="300.69" width="11.3" height="9.53" fill="#14508a" stroke="#0a3a6a" stroke-width="0.7"/>
<line x1="470" y1="303.94" x2="481.3" y2="303.94" stroke="#111" stroke-width="1.25" />
<line x1="491.85" y1="322.35" x2="491.85" y2="323.86" stroke="#222" stroke-width="0.9" />
<line x1="491.85" y1="326.46" x2="491.85" y2="326.89" stroke="#222" stroke-width="0.9" />
<line x1="488.35" y1="322.35" x2="495.35" y2="322.35" stroke="#222" stroke-width="0.9" />
<line x1="488.35" y1="326.89" x2="495.35" y2="326.89" stroke="#222" stroke-width="0.9" />
<rect x="486.2" y="323.86" width="11.3" height="2.6" fill="#5c2a72" stroke="#3a1050" stroke-width="0.7"/>
<line x1="486.2" y1="325.16" x2="497.5" y2="325.16" stroke="#111" stroke-width="1.25" />
<polyline points="471.3,294 472.1,292.4 472.9,294" fill="none" stroke="#333" stroke-width="0.6" stroke-linejoin="miter"/>
<polyline points="473.7,294 474.5,292.4 475.3,294" fill="none" stroke="#333" stroke-width="0.6" stroke-linejoin="miter"/>
<polyline points="476.1,294 476.9,292.4 477.7,294" fill="none" stroke="#333" stroke-width="0.6" stroke-linejoin="miter"/>
<polyline points="478.5,294 479.3,292.4 480.1,294" fill="none" stroke="#333" stroke-width="0.6" stroke-linejoin="miter"/>
<text transform="translate(491.8,319.2)" font-size="5.8" text-anchor="middle" font-weight="normal" font-style="italic" fill="#333"  stroke="#333" stroke-width="0.1">###</text>
<text transform="translate(7,394.2)" font-size="11" text-anchor="start" font-weight="bold" font-style="normal" fill="#000" >E</text>
<line x1="38.55" y1="397.5" x2="38.55" y2="403.5" stroke="#111" stroke-width="1.2" />
<line x1="38.55" y1="400.6" x2="210.26" y2="400.6" stroke="#111" stroke-width="1.3" />
<line x1="210.26" y1="397.5" x2="210.26" y2="403.5" stroke="#111" stroke-width="1.2" />
<text transform="translate(125.26,395.8)" font-size="9.3" text-anchor="middle" font-weight="normal" font-style="normal" fill="#000"  stroke="#000" stroke-width="0.1">Ca<tspan font-size="6" dy="-3.4">2+</tspan><tspan dy="3.4"> 1 mM</tspan></text>
<line x1="40.75" y1="418" x2="40.75" y2="533" stroke="#3a3a3a" stroke-width="1.4" />
<line x1="40.15" y1="532.45" x2="212.76" y2="532.45" stroke="#151515" stroke-width="1.3" />
<line x1="38.15" y1="532.28" x2="40.75" y2="532.28" stroke="#151515" stroke-width="1" />
<text transform="translate(35.55,534.98)" font-size="7.5" text-anchor="end" font-weight="normal" font-style="normal" fill="#000"  stroke="#000" stroke-width="0.1">&#8722;0.01</text>
<line x1="38.15" y1="513.9" x2="40.75" y2="513.9" stroke="#151515" stroke-width="1" />
<text transform="translate(35.55,516.6)" font-size="7.5" text-anchor="end" font-weight="normal" font-style="normal" fill="#000"  stroke="#000" stroke-width="0.1">0.00</text>
<line x1="38.15" y1="495.52" x2="40.75" y2="495.52" stroke="#151515" stroke-width="1" />
<text transform="translate(35.55,498.22)" font-size="7.5" text-anchor="end" font-weight="normal" font-style="normal" fill="#000"  stroke="#000" stroke-width="0.1">0.01</text>
<line x1="38.15" y1="477.14" x2="40.75" y2="477.14" stroke="#151515" stroke-width="1" />
<text transform="translate(35.55,479.84)" font-size="7.5" text-anchor="end" font-weight="normal" font-style="normal" fill="#000"  stroke="#000" stroke-width="0.1">0.02</text>
<line x1="38.15" y1="458.76" x2="40.75" y2="458.76" stroke="#151515" stroke-width="1" />
<text transform="translate(35.55,461.46)" font-size="7.5" text-anchor="end" font-weight="normal" font-style="normal" fill="#000"  stroke="#000" stroke-width="0.1">0.03</text>
<line x1="38.15" y1="440.38" x2="40.75" y2="440.38" stroke="#151515" stroke-width="1" />
<text transform="translate(35.55,443.08)" font-size="7.5" text-anchor="end" font-weight="normal" font-style="normal" fill="#000"  stroke="#000" stroke-width="0.1">0.04</text>
<line x1="38.15" y1="422" x2="40.75" y2="422" stroke="#151515" stroke-width="1" />
<text transform="translate(35.55,424.7)" font-size="7.5" text-anchor="end" font-weight="normal" font-style="normal" fill="#000"  stroke="#000" stroke-width="0.1">0.05</text>
<line x1="40.75" y1="532.45" x2="40.75" y2="535.8" stroke="#151515" stroke-width="1" />
<text transform="translate(40.75,543.6)" font-size="7.5" text-anchor="middle" font-weight="normal" font-style="normal" fill="#000"  stroke="#000" stroke-width="0.1">0</text>
<line x1="64.89" y1="532.45" x2="64.89" y2="535.8" stroke="#151515" stroke-width="1" />
<text transform="translate(64.89,543.6)" font-size="7.5" text-anchor="middle" font-weight="normal" font-style="normal" fill="#000"  stroke="#000" stroke-width="0.1">50</text>
<line x1="89.04" y1="532.45" x2="89.04" y2="535.8" stroke="#151515" stroke-width="1" />
<text transform="translate(89.04,543.6)" font-size="7.5" text-anchor="middle" font-weight="normal" font-style="normal" fill="#000"  stroke="#000" stroke-width="0.1">100</text>
<line x1="113.19" y1="532.45" x2="113.19" y2="535.8" stroke="#151515" stroke-width="1" />
<text transform="translate(113.19,543.6)" font-size="7.5" text-anchor="middle" font-weight="normal" font-style="normal" fill="#000"  stroke="#000" stroke-width="0.1">150</text>
<line x1="137.33" y1="532.45" x2="137.33" y2="535.8" stroke="#151515" stroke-width="1" />
<text transform="translate(137.33,543.6)" font-size="7.5" text-anchor="middle" font-weight="normal" font-style="normal" fill="#000"  stroke="#000" stroke-width="0.1">200</text>
<line x1="161.47" y1="532.45" x2="161.47" y2="535.8" stroke="#151515" stroke-width="1" />
<text transform="translate(161.47,543.6)" font-size="7.5" text-anchor="middle" font-weight="normal" font-style="normal" fill="#000"  stroke="#000" stroke-width="0.1">250</text>
<line x1="185.62" y1="532.45" x2="185.62" y2="535.8" stroke="#151515" stroke-width="1" />
<text transform="translate(185.62,543.6)" font-size="7.5" text-anchor="middle" font-weight="normal" font-style="normal" fill="#000"  stroke="#000" stroke-width="0.1">300</text>
<line x1="209.76" y1="532.45" x2="209.76" y2="535.8" stroke="#151515" stroke-width="1" />
<text transform="translate(209.76,543.6)" font-size="7.5" text-anchor="middle" font-weight="normal" font-style="normal" fill="#000"  stroke="#000" stroke-width="0.1">350</text>
<text transform="translate(124.76,555.5)" font-size="8.6" text-anchor="middle" font-weight="normal" font-style="normal" fill="#000"  textLength="24.3" lengthAdjust="spacingAndGlyphs" stroke="#000" stroke-width="0.1">Time (s)</text>
<text transform="translate(15.05,477) rotate(-90)" font-size="8.6" text-anchor="middle" font-weight="normal" font-style="normal" fill="#000"  textLength="17.7" lengthAdjust="spacingAndGlyphs" stroke="#000" stroke-width="0.1">&#916;F/F<tspan font-size="5.5" dy="1.8">0</tspan><tspan dy="-1.8"></tspan></text>
<polyline points="40.75,513.11 41.96,513.3 43.16,510.51 44.37,514.31 45.58,514.74 46.79,509.19 47.99,506.62 49.2,505.66 50.41,504.49 51.62,504.63 52.82,503.5 54.03,504.42 55.24,503.01 56.44,502.7 57.65,503.36 58.86,503.31 60.07,501.34 61.27,501.96 62.48,501.4 63.69,504.5 64.89,504.68 66.1,506.28 67.31,507.14 68.52,508.45 69.72,510.94 70.93,508.23 72.14,506.4 73.35,504.62 74.55,503.64 75.76,501.6 76.97,500.04 78.17,502.61 79.38,504.75 80.59,504.46 81.8,505.09 83,504.03 84.21,506.09 85.42,506.46 86.63,506.5 87.83,508.63 89.04,504.98 90.25,489.57 91.45,471.1 92.66,470.71 93.87,468.46 95.08,469.42 96.28,467.61 97.49,467.17 98.7,466.01 99.91,467.17 101.11,465.53 102.32,464.17 103.53,464.09 104.73,464.7 105.94,465.32 107.15,463.46 108.36,462.37 109.56,460.54 110.77,461.09 111.98,460.19 113.19,458.11 114.39,461.86 115.6,460.6 116.81,463.96 118.01,461.64 119.22,460.52 120.43,460.25 121.64,459.68 122.84,460.4 124.05,458.46 125.26,459.68 126.46,458.03 127.67,458.19 128.88,461.48 130.09,457.36 131.29,458.75 132.5,460.66 133.71,459.83 134.92,459.98 136.12,462.08 137.33,461.08 138.54,462.37 139.74,461.46 140.95,462.43 142.16,462.97 143.37,462.6 144.57,463.39 145.78,465.18 146.99,464.36 148.2,464.8 149.4,464.45 150.61,464.22 151.82,463.78 153.02,463.25 154.23,460.22 155.44,461.32 156.65,460.44 157.85,463.41 159.06,466.37 160.27,468.97 161.47,470.71 162.68,469.56 163.89,468.87 165.1,468.87 166.3,468.87 167.51,468.87 168.72,468.87 169.93,468.87 171.13,468.87 172.34,465.84 173.55,462.8 174.75,462.8 175.96,462.8 177.17,462.8 178.38,462.8 179.58,462.8 180.79,462.8 182,462.8 183.21,462.8 184.41,462.8" fill="none" stroke="#5c2a72" stroke-width="1.3" stroke-linejoin="round" />
<polyline points="40.75,514.42 41.96,516.23 43.16,515.47 44.37,512.78 45.58,514.5 46.79,514.54 47.99,513.47 49.2,514.39 50.41,511.05 51.62,511.32 52.82,513.98 54.03,513.15 55.24,510.04 56.44,512.93 57.65,511.32 58.86,511.46 60.07,509.24 61.27,511.32 62.48,509.92 63.69,509.17 64.89,510.22 66.1,509.55 67.31,508.6 68.52,507.94 69.72,509.84 70.93,507.61 72.14,507.77 73.35,510.77 74.55,510.74 75.76,506.52 76.97,510.33 78.17,508.49 79.38,506.86 80.59,509.76 81.8,506.71 83,507.71 84.21,508.62 85.42,509.23 86.63,507.3 87.83,496.54 89.04,482.92 90.25,483.56 91.45,480.03 92.66,480.23 93.87,479.07 95.08,478.03 96.28,478.79 97.49,479.29 98.7,478.14 99.91,479.73 101.11,480.23 102.32,477.46 103.53,477.52 104.73,477.76 105.94,476.94 107.15,478.01 108.36,476.5 109.56,476.02 110.77,477.55 111.98,477.18 113.19,478.66 114.39,479.4 115.6,477.8 116.81,477.66 118.01,477.71 119.22,476.01 120.43,475.8 121.64,477.67 122.84,476.38 124.05,477.78 125.26,477.33 126.46,478.34 127.67,476.32 128.88,479.05 130.09,476.46 131.29,479.6 132.5,478.85 133.71,477.85 134.92,478.75 136.12,476.45 137.33,475.84 138.54,476.56 139.74,475.71 140.95,476.28 142.16,477.76 143.37,475.13 144.57,474.4 145.78,475.43 146.99,474.42 148.2,475.99 149.4,475.98 150.61,472.7 151.82,476.19 153.02,472.62 154.23,473.12 155.44,474.34 156.65,473.01 157.85,475 159.06,472.75 160.27,473.75 161.47,472.57 162.68,472.79 163.89,472.03 165.1,472.23 166.3,472.24 167.51,472.38 168.72,471.33 169.93,472.71 171.13,472.62 172.34,474.92 173.55,473.53 174.75,474.14 175.96,476.02 177.17,473.36 178.38,473.59 179.58,475.67 180.79,474.62 182,474.19 183.21,474.68 184.41,474.39" fill="none" stroke="#c8102e" stroke-width="1.3" stroke-linejoin="round" />
<polyline points="40.75,514.04 41.96,512.37 43.16,514.94 44.37,512.11 45.58,511.91 46.79,510.66 47.99,510.48 49.2,513.6 50.41,511.34 51.62,509.98 52.82,507.44 54.03,509.53 55.24,508.36 56.44,510.16 57.65,510.52 58.86,507.53 60.07,509.06 61.27,510.42 62.48,509.26 63.69,506.65 64.89,505.34 66.1,507.12 67.31,507.64 68.52,508.92 69.72,507.24 70.93,508.36 72.14,506.66 73.35,506.19 74.55,507.98 75.76,505.96 76.97,507.2 78.17,504.36 79.38,507.22 80.59,505.48 81.8,505.72 83,505.3 84.21,504.8 85.42,503.82 86.63,503.3 87.83,504.64 89.04,502.98 90.25,504.38 91.45,495 92.66,494.24 93.87,494.49 95.08,493.96 96.28,496.12 97.49,491.92 98.7,493.93 99.91,493.83 101.11,490.57 102.32,493.03 103.53,492.36 104.73,491.61 105.94,492.49 107.15,491.06 108.36,490.59 109.56,491.03 110.77,489.54 111.98,487.42 113.19,488.97 114.39,487.46 115.6,487.04 116.81,484.95 118.01,488.7 119.22,485.54 120.43,482.42 121.64,485.96 122.84,484.48 124.05,483.6 125.26,486.31 126.46,483.97 127.67,483.62 128.88,482.35 130.09,482.36 131.29,479.55 132.5,482.53 133.71,481.36 134.92,480.53 136.12,479.71 137.33,480.38 138.54,479.66 139.74,479.94 140.95,481.4 142.16,478.05 143.37,477.75 144.57,479.56 145.78,478.33 146.99,480.11 148.2,476.8 149.4,478.87 150.61,477.6 151.82,478.97 153.02,477.58 154.23,475.65 155.44,477.21 156.65,475.23 157.85,476.3 159.06,474.01 160.27,472.68 161.47,475.28 162.68,474.93 163.89,470.79 165.1,470.75 166.3,473.48 167.51,470.46 168.72,470.28 169.93,470.42 171.13,469.41 172.34,468.5 173.55,469.2 174.75,466.64 175.96,469.92 177.17,465.02 178.38,468.64 179.58,466.47 180.79,466.47 182,468.87 183.21,466.45 184.41,467.38" fill="none" stroke="#14508a" stroke-width="1.3" stroke-linejoin="round" />
<polyline points="40.75,514.45 41.96,512.51 43.16,512.44 44.37,511.01 45.58,512.21 46.79,512.27 47.99,511.08 49.2,510.25 50.41,509.27 51.62,512.04 52.82,513.24 54.03,513.53 55.24,516.28 56.44,516.02 57.65,517.48 58.86,514.53 60.07,513.56 61.27,512.65 62.48,510.15 63.69,509.18 64.89,510.69 66.1,510.22 67.31,509.57 68.52,508.66 69.72,509.98 70.93,508.06 72.14,506.91 73.35,508.16 74.55,507.87 75.76,504.99 76.97,506.8 78.17,505.88 79.38,504.69 80.59,505.28 81.8,502.51 83,502.55 84.21,502.31 85.42,499.68 86.63,503.03 87.83,501.97 89.04,503.01 90.25,502.54 91.45,501.05 92.66,500.41 93.87,498.72 95.08,498.24 96.28,495.93 97.49,494.84 98.7,494.64 99.91,493.41 101.11,495.04 102.32,494.96 103.53,493.15 104.73,492.6 105.94,491.58 107.15,493.39 108.36,490.23 109.56,492.34 110.77,491.95 111.98,492.01 113.19,492.19 114.39,492.79 115.6,494.63 116.81,494.5 118.01,494.54 119.22,494.13 120.43,494.41 121.64,496.03 122.84,493.89 124.05,494.06 125.26,494.72 126.46,493.37 127.67,495 128.88,494.76 130.09,493.66 131.29,494.21 132.5,496.26 133.71,496.39 134.92,497.04 136.12,495.54 137.33,496.91 138.54,495.02 139.74,497.59 140.95,497.76 142.16,499.31 143.37,499.94 144.57,499.49 145.78,499.86 146.99,500.02 148.2,499.34 149.4,498.01 150.61,498.67 151.82,500.76 153.02,500.61 154.23,499.22 155.44,500.67 156.65,499.69 157.85,501.08 159.06,502.4 160.27,501.07 161.47,499.51 162.68,499.42 163.89,494.75 165.1,495.97 166.3,493.69 167.51,495.76 168.72,497.28 169.93,493.45 171.13,496.57 172.34,495.98 173.55,494.52 174.75,494.97 175.96,495.9 177.17,496.58 178.38,493.72 179.58,493.2 180.79,495.85 182,495.41 183.21,495.03 184.41,495.04" fill="none" stroke="#3db54a" stroke-width="1.3" stroke-linejoin="round" />
<line x1="87.5" y1="439.5" x2="87.5" y2="452.4" stroke="#000" stroke-width="1.3" />
<polygon points="84.2,449.4 87.5,450.8 90.8,449.4 87.5,455.4" fill="#000"/>
<text transform="translate(88.6,428.2)" font-size="7.6" text-anchor="middle" font-weight="normal" font-style="normal" fill="#000"  stroke="#000" stroke-width="0.1">CVX</text>
<text transform="translate(89.3,438)" font-size="7.6" text-anchor="middle" font-weight="normal" font-style="normal" fill="#000"  stroke="#000" stroke-width="0.1">100 ng/mL</text>
<line x1="139.9" y1="404" x2="139.9" y2="453" stroke="#151515" stroke-width="1.1" />
<line x1="139.3" y1="452.4" x2="209.6" y2="452.4" stroke="#151515" stroke-width="1.1" />
<line x1="137.6" y1="452.4" x2="139.9" y2="452.4" stroke="#151515" stroke-width="0.9" />
<text transform="translate(136.4,454.3)" font-size="5.4" text-anchor="end" font-weight="normal" font-style="normal" fill="#444"  textLength="10.4" lengthAdjust="spacingAndGlyphs" stroke="#444" stroke-width="0.1">0.00</text>
<line x1="137.6" y1="443.05" x2="139.9" y2="443.05" stroke="#151515" stroke-width="0.9" />
<text transform="translate(136.4,444.95)" font-size="5.4" text-anchor="end" font-weight="normal" font-style="normal" fill="#444"  textLength="10.4" lengthAdjust="spacingAndGlyphs" stroke="#444" stroke-width="0.1">0.01</text>
<line x1="137.6" y1="433.7" x2="139.9" y2="433.7" stroke="#151515" stroke-width="0.9" />
<text transform="translate(136.4,435.6)" font-size="5.4" text-anchor="end" font-weight="normal" font-style="normal" fill="#444"  textLength="10.4" lengthAdjust="spacingAndGlyphs" stroke="#444" stroke-width="0.1">0.02</text>
<line x1="137.6" y1="424.35" x2="139.9" y2="424.35" stroke="#151515" stroke-width="0.9" />
<text transform="translate(136.4,426.25)" font-size="5.4" text-anchor="end" font-weight="normal" font-style="normal" fill="#444"  textLength="10.4" lengthAdjust="spacingAndGlyphs" stroke="#444" stroke-width="0.1">0.03</text>
<line x1="137.6" y1="415" x2="139.9" y2="415" stroke="#151515" stroke-width="0.9" />
<text transform="translate(136.4,416.9)" font-size="5.4" text-anchor="end" font-weight="normal" font-style="normal" fill="#444"  textLength="10.4" lengthAdjust="spacingAndGlyphs" stroke="#444" stroke-width="0.1">0.04</text>
<line x1="137.6" y1="405.65" x2="139.9" y2="405.65" stroke="#151515" stroke-width="0.9" />
<text transform="translate(136.4,407.55)" font-size="5.4" text-anchor="end" font-weight="normal" font-style="normal" fill="#444"  textLength="10.4" lengthAdjust="spacingAndGlyphs" stroke="#444" stroke-width="0.1">0.05</text>
<text transform="translate(121.5,429.1) rotate(-90)" font-size="5.6" text-anchor="middle" font-weight="bold" font-style="normal" fill="#000"  textLength="9.5" lengthAdjust="spacingAndGlyphs">AUC</text>
<line x1="149.55" y1="428.37" x2="149.55" y2="429.77" stroke="#222" stroke-width="0.9" />
<line x1="149.55" y1="435.48" x2="149.55" y2="436.97" stroke="#222" stroke-width="0.9" />
<line x1="145.86" y1="428.37" x2="153.24" y2="428.37" stroke="#222" stroke-width="0.9" />
<line x1="145.86" y1="436.97" x2="153.24" y2="436.97" stroke="#222" stroke-width="0.9" />
<rect x="143.6" y="429.77" width="11.9" height="5.7" fill="#c8102e" stroke="#a00020" stroke-width="0.7"/>
<line x1="143.6" y1="432.3" x2="155.5" y2="432.3" stroke="#111" stroke-width="1.25" />
<line x1="166.65" y1="435.85" x2="166.65" y2="436.41" stroke="#222" stroke-width="0.9" />
<line x1="166.65" y1="441.37" x2="166.65" y2="442.58" stroke="#222" stroke-width="0.9" />
<line x1="162.96" y1="435.85" x2="170.34" y2="435.85" stroke="#222" stroke-width="0.9" />
<line x1="162.96" y1="442.58" x2="170.34" y2="442.58" stroke="#222" stroke-width="0.9" />
<rect x="160.7" y="436.41" width="11.9" height="4.96" fill="#3db54a" stroke="#1f9a35" stroke-width="0.7"/>
<line x1="160.7" y1="438.84" x2="172.6" y2="438.84" stroke="#111" stroke-width="1.25" />
<line x1="184.3" y1="430.43" x2="184.3" y2="431.27" stroke="#222" stroke-width="0.9" />
<line x1="184.3" y1="437.63" x2="184.3" y2="438.19" stroke="#222" stroke-width="0.9" />
<line x1="180.58" y1="430.43" x2="188.02" y2="430.43" stroke="#222" stroke-width="0.9" />
<line x1="180.58" y1="438.19" x2="188.02" y2="438.19" stroke="#222" stroke-width="0.9" />
<rect x="178.3" y="431.27" width="12" height="6.36" fill="#14508a" stroke="#0a3a6a" stroke-width="0.7"/>
<line x1="178.3" y1="434.17" x2="190.3" y2="434.17" stroke="#111" stroke-width="1.25" />
<line x1="202.2" y1="412.85" x2="202.2" y2="414.25" stroke="#222" stroke-width="0.9" />
<line x1="202.2" y1="425" x2="202.2" y2="425.47" stroke="#222" stroke-width="0.9" />
<line x1="198.48" y1="412.85" x2="205.92" y2="412.85" stroke="#222" stroke-width="0.9" />
<line x1="198.48" y1="425.47" x2="205.92" y2="425.47" stroke="#222" stroke-width="0.9" />
<rect x="196.2" y="414.25" width="12" height="10.75" fill="#5c2a72" stroke="#3a1050" stroke-width="0.7"/>
<line x1="196.2" y1="419.21" x2="208.2" y2="419.21" stroke="#111" stroke-width="1.25" />
<circle cx="164.8" cy="432.9" r="0.7" fill="#333"/>
<circle cx="168.4" cy="432.9" r="0.7" fill="#333"/>
<text transform="translate(280.5,394.2)" font-size="11" text-anchor="start" font-weight="bold" font-style="normal" fill="#000" >F</text>
<line x1="322.8" y1="397.5" x2="322.8" y2="403.5" stroke="#111" stroke-width="1.2" />
<line x1="322.8" y1="400.6" x2="492.31" y2="400.6" stroke="#111" stroke-width="1.3" />
<line x1="492.31" y1="397.5" x2="492.31" y2="403.5" stroke="#111" stroke-width="1.2" />
<text transform="translate(408.4,395.8)" font-size="9.3" text-anchor="middle" font-weight="normal" font-style="normal" fill="#000"  stroke="#000" stroke-width="0.1">Ca<tspan font-size="6" dy="-3.4">2+</tspan><tspan dy="3.4"> 1 mM</tspan></text>
<line x1="325" y1="418" x2="325" y2="533" stroke="#3a3a3a" stroke-width="1.4" />
<line x1="324.4" y1="532.45" x2="494.81" y2="532.45" stroke="#151515" stroke-width="1.3" />
<line x1="322.4" y1="532.28" x2="325" y2="532.28" stroke="#151515" stroke-width="1" />
<text transform="translate(319.8,534.98)" font-size="7.5" text-anchor="end" font-weight="normal" font-style="normal" fill="#000"  stroke="#000" stroke-width="0.1">&#8722;0.01</text>
<line x1="322.4" y1="513.9" x2="325" y2="513.9" stroke="#151515" stroke-width="1" />
<text transform="translate(319.8,516.6)" font-size="7.5" text-anchor="end" font-weight="normal" font-style="normal" fill="#000"  stroke="#000" stroke-width="0.1">0.00</text>
<line x1="322.4" y1="495.52" x2="325" y2="495.52" stroke="#151515" stroke-width="1" />
<text transform="translate(319.8,498.22)" font-size="7.5" text-anchor="end" font-weight="normal" font-style="normal" fill="#000"  stroke="#000" stroke-width="0.1">0.01</text>
<line x1="322.4" y1="477.14" x2="325" y2="477.14" stroke="#151515" stroke-width="1" />
<text transform="translate(319.8,479.84)" font-size="7.5" text-anchor="end" font-weight="normal" font-style="normal" fill="#000"  stroke="#000" stroke-width="0.1">0.02</text>
<line x1="322.4" y1="458.76" x2="325" y2="458.76" stroke="#151515" stroke-width="1" />
<text transform="translate(319.8,461.46)" font-size="7.5" text-anchor="end" font-weight="normal" font-style="normal" fill="#000"  stroke="#000" stroke-width="0.1">0.03</text>
<line x1="322.4" y1="440.38" x2="325" y2="440.38" stroke="#151515" stroke-width="1" />
<text transform="translate(319.8,443.08)" font-size="7.5" text-anchor="end" font-weight="normal" font-style="normal" fill="#000"  stroke="#000" stroke-width="0.1">0.04</text>
<line x1="322.4" y1="422" x2="325" y2="422" stroke="#151515" stroke-width="1" />
<text transform="translate(319.8,424.7)" font-size="7.5" text-anchor="end" font-weight="normal" font-style="normal" fill="#000"  stroke="#000" stroke-width="0.1">0.05</text>
<line x1="325" y1="532.45" x2="325" y2="535.8" stroke="#151515" stroke-width="1" />
<text transform="translate(325,543.6)" font-size="7.5" text-anchor="middle" font-weight="normal" font-style="normal" fill="#000"  stroke="#000" stroke-width="0.1">0</text>
<line x1="348.83" y1="532.45" x2="348.83" y2="535.8" stroke="#151515" stroke-width="1" />
<text transform="translate(348.83,543.6)" font-size="7.5" text-anchor="middle" font-weight="normal" font-style="normal" fill="#000"  stroke="#000" stroke-width="0.1">50</text>
<line x1="372.66" y1="532.45" x2="372.66" y2="535.8" stroke="#151515" stroke-width="1" />
<text transform="translate(372.66,543.6)" font-size="7.5" text-anchor="middle" font-weight="normal" font-style="normal" fill="#000"  stroke="#000" stroke-width="0.1">100</text>
<line x1="396.49" y1="532.45" x2="396.49" y2="535.8" stroke="#151515" stroke-width="1" />
<text transform="translate(396.49,543.6)" font-size="7.5" text-anchor="middle" font-weight="normal" font-style="normal" fill="#000"  stroke="#000" stroke-width="0.1">150</text>
<line x1="420.32" y1="532.45" x2="420.32" y2="535.8" stroke="#151515" stroke-width="1" />
<text transform="translate(420.32,543.6)" font-size="7.5" text-anchor="middle" font-weight="normal" font-style="normal" fill="#000"  stroke="#000" stroke-width="0.1">200</text>
<line x1="444.15" y1="532.45" x2="444.15" y2="535.8" stroke="#151515" stroke-width="1" />
<text transform="translate(444.15,543.6)" font-size="7.5" text-anchor="middle" font-weight="normal" font-style="normal" fill="#000"  stroke="#000" stroke-width="0.1">250</text>
<line x1="467.98" y1="532.45" x2="467.98" y2="535.8" stroke="#151515" stroke-width="1" />
<text transform="translate(467.98,543.6)" font-size="7.5" text-anchor="middle" font-weight="normal" font-style="normal" fill="#000"  stroke="#000" stroke-width="0.1">300</text>
<line x1="491.81" y1="532.45" x2="491.81" y2="535.8" stroke="#151515" stroke-width="1" />
<text transform="translate(491.81,543.6)" font-size="7.5" text-anchor="middle" font-weight="normal" font-style="normal" fill="#000"  stroke="#000" stroke-width="0.1">350</text>
<text transform="translate(407.9,555.5)" font-size="8.6" text-anchor="middle" font-weight="normal" font-style="normal" fill="#000"  textLength="24.3" lengthAdjust="spacingAndGlyphs" stroke="#000" stroke-width="0.1">Time (s)</text>
<text transform="translate(299.3,477) rotate(-90)" font-size="8.6" text-anchor="middle" font-weight="normal" font-style="normal" fill="#000"  textLength="17.7" lengthAdjust="spacingAndGlyphs" stroke="#000" stroke-width="0.1">&#916;F/F<tspan font-size="5.5" dy="1.8">0</tspan><tspan dy="-1.8"></tspan></text>
<polyline points="325,514.91 326.19,516.26 327.38,514.46 328.57,516.27 329.77,514.56 330.96,517.66 332.15,515.47 333.34,515.94 334.53,515.06 335.72,516.72 336.92,515.44 338.11,513.87 339.3,516.58 340.49,515.61 341.68,513.8 342.87,515.37 344.06,512.88 345.26,514.92 346.45,514.54 347.64,512.87 348.83,513.53 350.02,512.34 351.21,512.54 352.4,514.07 353.6,511.33 354.79,512.07 355.98,511.72 357.17,511.95 358.36,514.03 359.55,512.76 360.75,510.9 361.94,512.87 363.13,513.38 364.32,511.4 365.51,510.58 366.7,509.41 367.89,509.67 369.09,509.97 370.28,508.99 371.47,509.11 372.66,494.18 373.85,491.51 375.04,492.18 376.23,490.8 377.43,492.19 378.62,490.83 379.81,489.65 381,488.09 382.19,488.02 383.38,488.24 384.57,487.27 385.77,488.24 386.96,485.11 388.15,487.61 389.34,485.97 390.53,484.68 391.72,486.69 392.92,485.72 394.11,484.3 395.3,481.94 396.49,484.99 397.68,482.82 398.87,484.71 400.06,481.97 401.26,482.96 402.45,484.21 403.64,483.2 404.83,482.54 406.02,483.12 407.21,483.28 408.4,480.19 409.6,481.59 410.79,482.92 411.98,482.13 413.17,480.51 414.36,482.11 415.55,480.31 416.75,480.71 417.94,481.85 419.13,482.08 420.32,482.39 421.51,481.59 422.7,480.86 423.89,482.29 425.09,479.09 426.28,481.18 427.47,479.67 428.66,480.06 429.85,478.39 431.04,481.7 432.24,480.62 433.43,481.12 434.62,481.46 435.81,479.77 437,479.78 438.19,481.42 439.38,480.32 440.58,482.41 441.77,479.98 442.96,481.8 444.15,481.7 445.34,479.14 446.53,481.46 447.72,480.64 448.92,479.72 450.11,480.84 451.3,481.08 452.49,481.72 453.68,481.03 454.87,479.99 456.06,481.14 457.26,482.32 458.45,481.84 459.64,479.5 460.83,482.42 462.02,480.32 463.21,480.58 464.41,479.94 465.6,479.86 466.79,480.41 467.98,481.23 469.17,482.68" fill="none" stroke="#c8102e" stroke-width="1.3" stroke-linejoin="round" />
<polyline points="325,512.15 326.19,513.71 327.38,513.23 328.57,512.39 329.77,512.87 330.96,513.53 332.15,510.22 333.34,511.38 334.53,514.05 335.72,513.52 336.92,514.16 338.11,512.65 339.3,511.91 340.49,514.09 341.68,509.86 342.87,512.27 344.06,511.75 345.26,511.94 346.45,512.49 347.64,512.2 348.83,511.57 350.02,509.94 351.21,510.27 352.4,510.2 353.6,513.41 354.79,512.13 355.98,509.24 357.17,511.24 358.36,510.92 359.55,510.25 360.75,509.62 361.94,509.57 363.13,508.54 364.32,510.88 365.51,508.75 366.7,510.12 367.89,508.4 369.09,508.81 370.28,509.12 371.47,508.07 372.66,506.16 373.85,502.95 375.04,500.89 376.23,498.83 377.43,501.39 378.62,498.39 379.81,499.2 381,498.12 382.19,499.53 383.38,498.58 384.57,496.6 385.77,495.42 386.96,497.29 388.15,498.15 389.34,496.83 390.53,498.74 391.72,495.51 392.92,497.31 394.11,496.9 395.3,499.32 396.49,499.73 397.68,499.16 398.87,497.6 400.06,499.23 401.26,495.53 402.45,496.39 403.64,499.16 404.83,498.48 406.02,495.89 407.21,496.92 408.4,496.47 409.6,497.47 410.79,496.6 411.98,497.81 413.17,496.38 414.36,497.45 415.55,495.68 416.75,498.34 417.94,498.44 419.13,495.74 420.32,496.83 421.51,496.59 422.7,498.67 423.89,496.08 425.09,497.43 426.28,497.83 427.47,498.3 428.66,497.89 429.85,498.06 431.04,497.51 432.24,498.97 433.43,497.28 434.62,498.88 435.81,498.65 437,499.64 438.19,496.56 439.38,498 440.58,500.89 441.77,497.65 442.96,499.17 444.15,500.08 445.34,501.36 446.53,497.5 447.72,497.47 448.92,499.26 450.11,497.67 451.3,499.89 452.49,500.1 453.68,499.26 454.87,499.18 456.06,499.67 457.26,499.7 458.45,498.13 459.64,501.83 460.83,499.4 462.02,498.44 463.21,498.62 464.41,498.33 465.6,498.78 466.79,497.96 467.98,500.05 469.17,498.41" fill="none" stroke="#3db54a" stroke-width="1.3" stroke-linejoin="round" />
<polyline points="325,514.22 326.19,515.93 327.38,511.12 328.57,512.85 329.77,511.11 330.96,512.9 332.15,512.52 333.34,509.69 334.53,511.59 335.72,511.99 336.92,511.8 338.11,510.89 339.3,511.52 340.49,509.83 341.68,509 342.87,509.45 344.06,510.71 345.26,509.96 346.45,508.6 347.64,511.18 348.83,508.77 350.02,509.95 351.21,510.74 352.4,511.61 353.6,511.2 354.79,509.17 355.98,511.35 357.17,511.55 358.36,511.83 359.55,511.91 360.75,512.29 361.94,512.71 363.13,511.56 364.32,511.8 365.51,511.34 366.7,509.7 367.89,510.63 369.09,512.49 370.28,510 371.47,509.41 372.66,509.38 373.85,509.33 375.04,506.61 376.23,505.61 377.43,505.09 378.62,505.85 379.81,505.65 381,503.2 382.19,504.24 383.38,507.02 384.57,505.67 385.77,503.93 386.96,503.85 388.15,503.41 389.34,503.14 390.53,505.03 391.72,502.06 392.92,501.75 394.11,503.79 395.3,502.33 396.49,504.98 397.68,502.65 398.87,503.52 400.06,503.29 401.26,503.49 402.45,502.57 403.64,503.45 404.83,502.09 406.02,502.01 407.21,504.91 408.4,502.2 409.6,502.74 410.79,505.59 411.98,504.32 413.17,502.6 414.36,504.89 415.55,503.99 416.75,503.06 417.94,501.98 419.13,504.42 420.32,503.48 421.51,502.23 422.7,504.56 423.89,501.76 425.09,503.25 426.28,500.68 427.47,496.59 428.66,497.05 429.85,499.22 431.04,496.85 432.24,497.65 433.43,497.21 434.62,496.96 435.81,497.5 437,497.12 438.19,497.22 439.38,499.31 440.58,495.35 441.77,495.62 442.96,499.73 444.15,498.47 445.34,501.27 446.53,501.97 447.72,501.63 448.92,500.19 450.11,502.6 451.3,501.31 452.49,502.09 453.68,501.14 454.87,501.49 456.06,504.57 457.26,502.75 458.45,502.38 459.64,502.4 460.83,503.27 462.02,501.85 463.21,501.18 464.41,502.5 465.6,494.41 466.79,494.65 467.98,493.03 469.17,490.74" fill="none" stroke="#14508a" stroke-width="1.3" stroke-linejoin="round" />
<polyline points="325,515.21 326.19,514.19 327.38,517.94 328.57,514.75 329.77,515.52 330.96,515.47 332.15,515.27 333.34,515.73 334.53,514.89 335.72,514.74 336.92,514.17 338.11,514.64 339.3,511.35 340.49,516.99 341.68,514.57 342.87,515.93 344.06,514.71 345.26,514.7 346.45,512.63 347.64,511.81 348.83,511.6 350.02,511.87 351.21,513.19 352.4,510.72 353.6,511.62 354.79,510 355.98,511.89 357.17,509.63 358.36,507.44 359.55,509.84 360.75,509.48 361.94,507.66 363.13,507.44 364.32,506.56 365.51,506.21 366.7,507.82 367.89,507.31 369.09,509.75 370.28,507.88 371.47,511.74 372.66,508.96 373.85,510.25 375.04,508.34 376.23,507.76 377.43,507.39 378.62,505.93 379.81,508.45 381,504.87 382.19,505.9 383.38,508.23 384.57,507.88 385.77,507.1 386.96,504.37 388.15,505.92 389.34,504.74 390.53,504.47 391.72,507.09 392.92,507.11 394.11,505.83 395.3,505.58 396.49,503.15 397.68,506.36 398.87,505.28 400.06,507.13 401.26,507.7 402.45,504.65 403.64,505.43 404.83,508.95 406.02,504.15 407.21,505.35 408.4,504.75 409.6,504.08 410.79,505.66 411.98,506.97 413.17,506.75 414.36,506.73 415.55,504.43 416.75,505.61 417.94,506.08 419.13,507.52 420.32,507 421.51,505.14 422.7,507.16 423.89,505.63 425.09,508.45 426.28,508.61 427.47,511.92 428.66,509.23 429.85,508.7 431.04,509.91 432.24,509.44 433.43,508.64 434.62,507.71 435.81,510.71 437,509.67 438.19,509.38 439.38,507.71 440.58,508.38 441.77,508.63 442.96,508.45 444.15,510.64 445.34,510.95 446.53,506.07 447.72,509.09 448.92,509.25 450.11,509.69 451.3,509.73 452.49,510.71 453.68,509.41 454.87,510.03 456.06,511.52 457.26,508.76 458.45,508.04 459.64,509.67 460.83,508.11 462.02,511.02 463.21,510.15 464.41,509.58 465.6,509.66 466.79,511.94 467.98,510.87 469.17,513.51" fill="none" stroke="#5c2a72" stroke-width="1.3" stroke-linejoin="round" />
<line x1="370.5" y1="458.75" x2="370.5" y2="472" stroke="#000" stroke-width="1.3" />
<polygon points="367.2,469 370.5,470.4 373.8,469 370.5,475" fill="#000"/>
<text transform="translate(369.5,446.5)" font-size="7.6" text-anchor="middle" font-weight="normal" font-style="normal" fill="#000"  stroke="#000" stroke-width="0.1">U46619</text>
<text transform="translate(369.8,455.2)" font-size="7.6" text-anchor="middle" font-weight="normal" font-style="normal" fill="#000"  stroke="#000" stroke-width="0.1">1&#956;M</text>
<line x1="428.5" y1="413.5" x2="428.5" y2="458.5" stroke="#151515" stroke-width="1.1" />
<line x1="427.9" y1="457.8" x2="493.3" y2="457.8" stroke="#151515" stroke-width="1.1" />
<line x1="426.4" y1="457.8" x2="428.5" y2="457.8" stroke="#151515" stroke-width="0.9" />
<text transform="translate(425.2,459.7)" font-size="5.3" text-anchor="end" font-weight="bold" font-style="normal" fill="#000"  textLength="10.6" lengthAdjust="spacingAndGlyphs">0.000</text>
<line x1="426.4" y1="449.25" x2="428.5" y2="449.25" stroke="#151515" stroke-width="0.9" />
<text transform="translate(425.2,451.15)" font-size="5.3" text-anchor="end" font-weight="bold" font-style="normal" fill="#000"  textLength="10.6" lengthAdjust="spacingAndGlyphs">0.005</text>
<line x1="426.4" y1="440.7" x2="428.5" y2="440.7" stroke="#151515" stroke-width="0.9" />
<text transform="translate(425.2,442.6)" font-size="5.3" text-anchor="end" font-weight="bold" font-style="normal" fill="#000"  textLength="10.6" lengthAdjust="spacingAndGlyphs">0.010</text>
<line x1="426.4" y1="432.15" x2="428.5" y2="432.15" stroke="#151515" stroke-width="0.9" />
<text transform="translate(425.2,434.05)" font-size="5.3" text-anchor="end" font-weight="bold" font-style="normal" fill="#000"  textLength="10.6" lengthAdjust="spacingAndGlyphs">0.015</text>
<line x1="426.4" y1="423.6" x2="428.5" y2="423.6" stroke="#151515" stroke-width="0.9" />
<text transform="translate(425.2,425.5)" font-size="5.3" text-anchor="end" font-weight="bold" font-style="normal" fill="#000"  textLength="10.6" lengthAdjust="spacingAndGlyphs">0.020</text>
<line x1="426.4" y1="415.05" x2="428.5" y2="415.05" stroke="#151515" stroke-width="0.9" />
<text transform="translate(425.2,416.95)" font-size="5.3" text-anchor="end" font-weight="bold" font-style="normal" fill="#000"  textLength="10.6" lengthAdjust="spacingAndGlyphs">0.025</text>
<text transform="translate(410.5,436.4) rotate(-90)" font-size="5.6" text-anchor="middle" font-weight="bold" font-style="normal" fill="#000"  textLength="9.0" lengthAdjust="spacingAndGlyphs">AUC</text>
<line x1="436.95" y1="420.35" x2="436.95" y2="420.69" stroke="#222" stroke-width="0.9" />
<line x1="436.95" y1="429.76" x2="436.95" y2="430.1" stroke="#222" stroke-width="0.9" />
<line x1="433.38" y1="420.35" x2="440.51" y2="420.35" stroke="#222" stroke-width="0.9" />
<line x1="433.38" y1="430.1" x2="440.51" y2="430.1" stroke="#222" stroke-width="0.9" />
<rect x="431.2" y="420.69" width="11.5" height="9.06" fill="#c8102e" stroke="#a00020" stroke-width="0.7"/>
<line x1="431.2" y1="424.8" x2="442.7" y2="424.8" stroke="#111" stroke-width="1.25" />
<line x1="453.3" y1="440.53" x2="453.3" y2="441.38" stroke="#222" stroke-width="0.9" />
<line x1="453.3" y1="445.32" x2="453.3" y2="445.49" stroke="#222" stroke-width="0.9" />
<line x1="449.77" y1="440.53" x2="456.83" y2="440.53" stroke="#222" stroke-width="0.9" />
<line x1="449.77" y1="445.49" x2="456.83" y2="445.49" stroke="#222" stroke-width="0.9" />
<rect x="447.6" y="441.38" width="11.4" height="3.93" fill="#3db54a" stroke="#1f9a35" stroke-width="0.7"/>
<line x1="447.6" y1="443.26" x2="459" y2="443.26" stroke="#111" stroke-width="1.25" />
<line x1="469.1" y1="439.33" x2="469.1" y2="440.7" stroke="#222" stroke-width="0.9" />
<line x1="469.1" y1="446.17" x2="469.1" y2="449.59" stroke="#222" stroke-width="0.9" />
<line x1="465.57" y1="439.33" x2="472.63" y2="439.33" stroke="#222" stroke-width="0.9" />
<line x1="465.57" y1="449.59" x2="472.63" y2="449.59" stroke="#222" stroke-width="0.9" />
<rect x="463.4" y="440.7" width="11.4" height="5.47" fill="#14508a" stroke="#0a3a6a" stroke-width="0.7"/>
<line x1="463.4" y1="443.44" x2="474.8" y2="443.44" stroke="#111" stroke-width="1.25" />
<line x1="485.3" y1="442.92" x2="485.3" y2="443.44" stroke="#222" stroke-width="0.9" />
<line x1="485.3" y1="445.66" x2="485.3" y2="445.83" stroke="#222" stroke-width="0.9" />
<line x1="481.77" y1="442.92" x2="488.83" y2="442.92" stroke="#222" stroke-width="0.9" />
<line x1="481.77" y1="445.83" x2="488.83" y2="445.83" stroke="#222" stroke-width="0.9" />
<rect x="479.6" y="443.44" width="11.4" height="2.22" fill="#5c2a72" stroke="#3a1050" stroke-width="0.7"/>
<line x1="479.6" y1="444.46" x2="491" y2="444.46" stroke="#111" stroke-width="1.25" />
<circle cx="449.8" cy="437.1" r="0.6" fill="#333"/>
<circle cx="452.13" cy="437.1" r="0.6" fill="#333"/>
<circle cx="454.47" cy="437.1" r="0.6" fill="#333"/>
<circle cx="456.8" cy="437.1" r="0.6" fill="#333"/>
<polyline points="466.1,435.5 466.9,433.9 467.7,435.5" fill="none" stroke="#333" stroke-width="0.6" stroke-linejoin="miter"/>
<polyline points="468.5,435.5 469.3,433.9 470.1,435.5" fill="none" stroke="#333" stroke-width="0.6" stroke-linejoin="miter"/>
<polyline points="470.9,435.5 471.7,433.9 472.5,435.5" fill="none" stroke="#333" stroke-width="0.6" stroke-linejoin="miter"/>
<rect x="0.5" y="0.5" width="519" height="561" fill="none" stroke="#000" stroke-width="1"/>
</svg></body></html>
